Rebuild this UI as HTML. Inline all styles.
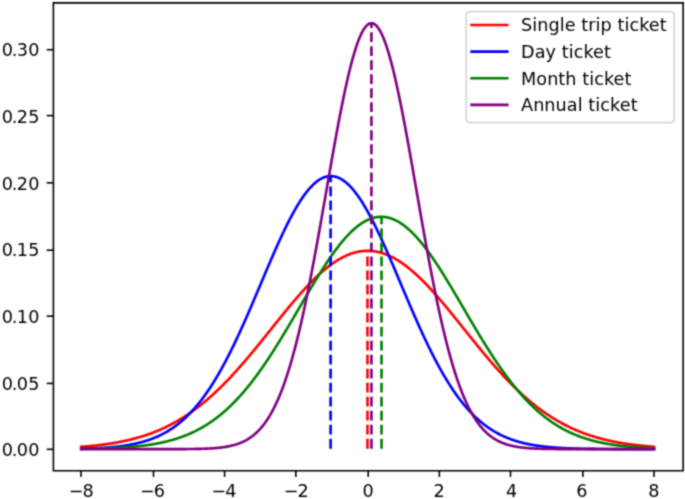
<!DOCTYPE html>
<html><head><meta charset="utf-8"><title>Ticket distributions</title><style>
html,body{margin:0;padding:0;background:#fff;width:685px;height:499px;overflow:hidden}
svg{display:block}
</style></head><body>
<svg width="685" height="499" viewBox="0 0 685 499">
<rect width="685" height="499" fill="#fff"/>
<defs><filter id="b" filterUnits="userSpaceOnUse" x="0" y="0" width="685" height="499" color-interpolation-filters="sRGB"><feConvolveMatrix order="3" kernelMatrix="0.0400 0.1200 0.0400 0.1200 0.3600 0.1200 0.0400 0.1200 0.0400" divisor="1" edgeMode="duplicate"/></filter></defs>
<g filter="url(#b)"><rect width="685" height="499" fill="#fff"/>
<line x1="81.06" y1="470.80" x2="81.06" y2="476.97" stroke="#000" stroke-width="1.60"/>
<text x="80.73" y="497.10" text-anchor="middle" style="font-family:'DejaVu Sans','Liberation Sans',sans-serif;font-size:17.64px;letter-spacing:-1.0px" fill="#000">−8</text>
<line x1="153.50" y1="470.80" x2="153.50" y2="476.97" stroke="#000" stroke-width="1.60"/>
<text x="152.10" y="497.10" text-anchor="middle" style="font-family:'DejaVu Sans','Liberation Sans',sans-serif;font-size:17.64px;letter-spacing:-1.0px" fill="#000">−6</text>
<line x1="224.60" y1="470.80" x2="224.60" y2="476.97" stroke="#000" stroke-width="1.60"/>
<text x="223.49" y="497.10" text-anchor="middle" style="font-family:'DejaVu Sans','Liberation Sans',sans-serif;font-size:17.64px;letter-spacing:-1.0px" fill="#000">−4</text>
<line x1="295.82" y1="470.80" x2="295.82" y2="476.97" stroke="#000" stroke-width="1.60"/>
<text x="295.62" y="497.10" text-anchor="middle" style="font-family:'DejaVu Sans','Liberation Sans',sans-serif;font-size:17.64px;letter-spacing:-1.0px" fill="#000">−2</text>
<line x1="368.22" y1="470.80" x2="368.22" y2="476.97" stroke="#000" stroke-width="1.60"/>
<text x="368.10" y="497.10" text-anchor="middle" style="font-family:'DejaVu Sans','Liberation Sans',sans-serif;font-size:17.64px;letter-spacing:0px" fill="#000">0</text>
<line x1="439.34" y1="470.80" x2="439.34" y2="476.97" stroke="#000" stroke-width="1.60"/>
<text x="439.09" y="497.10" text-anchor="middle" style="font-family:'DejaVu Sans','Liberation Sans',sans-serif;font-size:17.64px;letter-spacing:0px" fill="#000">2</text>
<line x1="510.50" y1="470.80" x2="510.50" y2="476.97" stroke="#000" stroke-width="1.60"/>
<text x="511.65" y="497.10" text-anchor="middle" style="font-family:'DejaVu Sans','Liberation Sans',sans-serif;font-size:17.64px;letter-spacing:0px" fill="#000">4</text>
<line x1="582.90" y1="470.80" x2="582.90" y2="476.97" stroke="#000" stroke-width="1.60"/>
<text x="581.94" y="497.10" text-anchor="middle" style="font-family:'DejaVu Sans','Liberation Sans',sans-serif;font-size:17.64px;letter-spacing:0px" fill="#000">6</text>
<line x1="654.00" y1="470.80" x2="654.00" y2="476.97" stroke="#000" stroke-width="1.60"/>
<text x="653.75" y="497.10" text-anchor="middle" style="font-family:'DejaVu Sans','Liberation Sans',sans-serif;font-size:17.64px;letter-spacing:0px" fill="#000">8</text>
<line x1="46.70" y1="449.30" x2="53.40" y2="449.30" stroke="#000" stroke-width="1.60"/>
<text x="1.64 11.75 16.80 28.30" y="456" style="font-family:'DejaVu Sans','Liberation Sans',sans-serif;font-size:17.64px" fill="#000">0.00</text>
<line x1="46.70" y1="383.40" x2="53.40" y2="383.40" stroke="#000" stroke-width="1.60"/>
<text x="1.64 11.75 16.80 28.30" y="390" style="font-family:'DejaVu Sans','Liberation Sans',sans-serif;font-size:17.64px" fill="#000">0.05</text>
<line x1="46.70" y1="316.14" x2="53.40" y2="316.14" stroke="#000" stroke-width="1.60"/>
<text x="1.64 11.75 16.80 28.30" y="323" style="font-family:'DejaVu Sans','Liberation Sans',sans-serif;font-size:17.64px" fill="#000">0.10</text>
<line x1="46.70" y1="250.20" x2="53.40" y2="250.20" stroke="#000" stroke-width="1.60"/>
<text x="1.64 11.75 16.80 28.30" y="256" style="font-family:'DejaVu Sans','Liberation Sans',sans-serif;font-size:17.64px" fill="#000">0.15</text>
<line x1="46.70" y1="182.82" x2="53.40" y2="182.82" stroke="#000" stroke-width="1.60"/>
<text x="1.64 11.75 16.80 28.30" y="190" style="font-family:'DejaVu Sans','Liberation Sans',sans-serif;font-size:17.64px" fill="#000">0.20</text>
<line x1="46.70" y1="115.60" x2="53.40" y2="115.60" stroke="#000" stroke-width="1.60"/>
<text x="1.64 11.75 16.80 28.30" y="123" style="font-family:'DejaVu Sans','Liberation Sans',sans-serif;font-size:17.64px" fill="#000">0.25</text>
<line x1="46.70" y1="49.70" x2="53.40" y2="49.70" stroke="#000" stroke-width="1.60"/>
<text x="1.64 11.75 16.80 28.30" y="56" style="font-family:'DejaVu Sans','Liberation Sans',sans-serif;font-size:17.64px" fill="#000">0.30</text>
<clipPath id="c"><rect x="53.4" y="2.9" width="629.75" height="467.90000000000003"/></clipPath>
<g clip-path="url(#c)">
<polyline points="81.20,446.77 81.68,446.74 82.15,446.70 82.63,446.66 83.11,446.63 83.59,446.59 84.06,446.55 84.54,446.51 85.02,446.48 85.50,446.44 85.97,446.40 86.45,446.36 86.93,446.32 87.41,446.27 87.88,446.23 88.36,446.19 88.84,446.15 89.31,446.10 89.79,446.06 90.27,446.02 90.75,445.97 91.22,445.93 91.70,445.88 92.18,445.83 92.66,445.78 93.13,445.74 93.61,445.69 94.09,445.64 94.57,445.59 95.04,445.54 95.52,445.49 96.00,445.44 96.47,445.38 96.95,445.33 97.43,445.28 97.91,445.22 98.38,445.17 98.86,445.11 99.34,445.06 99.82,445.00 100.29,444.94 100.77,444.88 101.25,444.83 101.73,444.77 102.20,444.71 102.68,444.64 103.16,444.58 103.63,444.52 104.11,444.46 104.59,444.39 105.07,444.33 105.54,444.26 106.02,444.20 106.50,444.13 106.98,444.06 107.45,443.99 107.93,443.92 108.41,443.85 108.89,443.78 109.36,443.71 109.84,443.64 110.32,443.56 110.79,443.49 111.27,443.41 111.75,443.34 112.23,443.26 112.70,443.18 113.18,443.10 113.66,443.02 114.14,442.94 114.61,442.86 115.09,442.78 115.57,442.70 116.05,442.61 116.52,442.53 117.00,442.44 117.48,442.35 117.95,442.27 118.43,442.18 118.91,442.09 119.39,442.00 119.86,441.90 120.34,441.81 120.82,441.72 121.30,441.62 121.77,441.53 122.25,441.43 122.73,441.33 123.21,441.23 123.68,441.13 124.16,441.03 124.64,440.93 125.11,440.83 125.59,440.72 126.07,440.62 126.55,440.51 127.02,440.40 127.50,440.29 127.98,440.18 128.46,440.07 128.93,439.96 129.41,439.85 129.89,439.73 130.37,439.61 130.84,439.50 131.32,439.38 131.80,439.26 132.27,439.14 132.75,439.02 133.23,438.89 133.71,438.77 134.18,438.64 134.66,438.52 135.14,438.39 135.62,438.26 136.09,438.13 136.57,438.00 137.05,437.86 137.53,437.73 138.00,437.59 138.48,437.46 138.96,437.32 139.43,437.18 139.91,437.04 140.39,436.89 140.87,436.75 141.34,436.60 141.82,436.46 142.30,436.31 142.78,436.16 143.25,436.01 143.73,435.86 144.21,435.70 144.69,435.55 145.16,435.39 145.64,435.23 146.12,435.07 146.59,434.91 147.07,434.75 147.55,434.58 148.03,434.42 148.50,434.25 148.98,434.08 149.46,433.91 149.94,433.74 150.41,433.57 150.89,433.39 151.37,433.21 151.85,433.04 152.32,432.86 152.80,432.67 153.28,432.49 153.75,432.31 154.23,432.12 154.71,431.93 155.19,431.74 155.66,431.55 156.14,431.36 156.62,431.16 157.10,430.97 157.57,430.77 158.05,430.57 158.53,430.37 159.01,430.17 159.48,429.96 159.96,429.76 160.44,429.55 160.91,429.34 161.39,429.13 161.87,428.91 162.35,428.70 162.82,428.48 163.30,428.26 163.78,428.04 164.26,427.82 164.73,427.59 165.21,427.37 165.69,427.14 166.17,426.91 166.64,426.68 167.12,426.45 167.60,426.21 168.07,425.97 168.55,425.73 169.03,425.49 169.51,425.25 169.98,425.01 170.46,424.76 170.94,424.51 171.42,424.26 171.89,424.01 172.37,423.75 172.85,423.50 173.33,423.24 173.80,422.98 174.28,422.72 174.76,422.45 175.23,422.19 175.71,421.92 176.19,421.65 176.67,421.38 177.14,421.10 177.62,420.83 178.10,420.55 178.58,420.27 179.05,419.99 179.53,419.70 180.01,419.42 180.49,419.13 180.96,418.84 181.44,418.55 181.92,418.25 182.39,417.95 182.87,417.66 183.35,417.36 183.83,417.05 184.30,416.75 184.78,416.44 185.26,416.13 185.74,415.82 186.21,415.51 186.69,415.19 187.17,414.88 187.65,414.56 188.12,414.23 188.60,413.91 189.08,413.59 189.55,413.26 190.03,412.93 190.51,412.60 190.99,412.26 191.46,411.92 191.94,411.59 192.42,411.24 192.90,410.90 193.37,410.56 193.85,410.21 194.33,409.86 194.81,409.51 195.28,409.15 195.76,408.80 196.24,408.44 196.71,408.08 197.19,407.72 197.67,407.35 198.15,406.99 198.62,406.62 199.10,406.25 199.58,405.87 200.06,405.50 200.53,405.12 201.01,404.74 201.49,404.36 201.97,403.97 202.44,403.59 202.92,403.20 203.40,402.81 203.87,402.42 204.35,402.02 204.83,401.62 205.31,401.22 205.78,400.82 206.26,400.42 206.74,400.01 207.22,399.61 207.69,399.20 208.17,398.78 208.65,398.37 209.13,397.95 209.60,397.53 210.08,397.11 210.56,396.69 211.03,396.26 211.51,395.84 211.99,395.41 212.47,394.98 212.94,394.54 213.42,394.11 213.90,393.67 214.38,393.23 214.85,392.79 215.33,392.34 215.81,391.90 216.29,391.45 216.76,391.00 217.24,390.54 217.72,390.09 218.19,389.63 218.67,389.17 219.15,388.71 219.63,388.25 220.10,387.78 220.58,387.32 221.06,386.85 221.54,386.38 222.01,385.90 222.49,385.43 222.97,384.95 223.45,384.47 223.92,383.99 224.40,383.51 224.88,383.02 225.35,382.54 225.83,382.05 226.31,381.56 226.79,381.07 227.26,380.57 227.74,380.07 228.22,379.58 228.70,379.08 229.17,378.57 229.65,378.07 230.13,377.56 230.61,377.06 231.08,376.55 231.56,376.04 232.04,375.52 232.51,375.01 232.99,374.49 233.47,373.97 233.95,373.45 234.42,372.93 234.90,372.41 235.38,371.88 235.86,371.36 236.33,370.83 236.81,370.30 237.29,369.77 237.77,369.23 238.24,368.70 238.72,368.16 239.20,367.62 239.67,367.08 240.15,366.54 240.63,366.00 241.11,365.46 241.58,364.91 242.06,364.36 242.54,363.81 243.02,363.26 243.49,362.71 243.97,362.16 244.45,361.61 244.93,361.05 245.40,360.49 245.88,359.93 246.36,359.37 246.83,358.81 247.31,358.25 247.79,357.69 248.27,357.12 248.74,356.56 249.22,355.99 249.70,355.42 250.18,354.85 250.65,354.28 251.13,353.71 251.61,353.14 252.09,352.56 252.56,351.99 253.04,351.41 253.52,350.83 253.99,350.26 254.47,349.68 254.95,349.10 255.43,348.52 255.90,347.94 256.38,347.35 256.86,346.77 257.34,346.19 257.81,345.60 258.29,345.02 258.77,344.43 259.25,343.84 259.72,343.25 260.20,342.67 260.68,342.08 261.15,341.49 261.63,340.90 262.11,340.31 262.59,339.71 263.06,339.12 263.54,338.53 264.02,337.94 264.50,337.34 264.97,336.75 265.45,336.16 265.93,335.56 266.41,334.97 266.88,334.37 267.36,333.78 267.84,333.18 268.31,332.59 268.79,331.99 269.27,331.39 269.75,330.80 270.22,330.20 270.70,329.61 271.18,329.01 271.66,328.41 272.13,327.82 272.61,327.22 273.09,326.62 273.57,326.03 274.04,325.43 274.52,324.84 275.00,324.24 275.47,323.64 275.95,323.05 276.43,322.45 276.91,321.86 277.38,321.27 277.86,320.67 278.34,320.08 278.82,319.49 279.29,318.89 279.77,318.30 280.25,317.71 280.73,317.12 281.20,316.53 281.68,315.94 282.16,315.35 282.63,314.76 283.11,314.18 283.59,313.59 284.07,313.00 284.54,312.42 285.02,311.83 285.50,311.25 285.98,310.67 286.45,310.09 286.93,309.51 287.41,308.93 287.89,308.35 288.36,307.77 288.84,307.19 289.32,306.62 289.79,306.05 290.27,305.47 290.75,304.90 291.23,304.33 291.70,303.76 292.18,303.20 292.66,302.63 293.14,302.06 293.61,301.50 294.09,300.94 294.57,300.38 295.05,299.82 295.52,299.26 296.00,298.71 296.48,298.16 296.95,297.60 297.43,297.05 297.91,296.50 298.39,295.96 298.86,295.41 299.34,294.87 299.82,294.33 300.30,293.79 300.77,293.25 301.25,292.72 301.73,292.18 302.21,291.65 302.68,291.12 303.16,290.60 303.64,290.07 304.11,289.55 304.59,289.03 305.07,288.51 305.55,287.99 306.02,287.48 306.50,286.97 306.98,286.46 307.46,285.95 307.93,285.45 308.41,284.95 308.89,284.45 309.37,283.95 309.84,283.46 310.32,282.97 310.80,282.48 311.27,281.99 311.75,281.51 312.23,281.03 312.71,280.55 313.18,280.07 313.66,279.60 314.14,279.13 314.62,278.67 315.09,278.20 315.57,277.74 316.05,277.28 316.53,276.83 317.00,276.38 317.48,275.93 317.96,275.48 318.43,275.04 318.91,274.60 319.39,274.17 319.87,273.73 320.34,273.30 320.82,272.88 321.30,272.46 321.78,272.04 322.25,271.62 322.73,271.21 323.21,270.80 323.69,270.39 324.16,269.99 324.64,269.59 325.12,269.20 325.59,268.80 326.07,268.42 326.55,268.03 327.03,267.65 327.50,267.27 327.98,266.90 328.46,266.53 328.94,266.16 329.41,265.80 329.89,265.44 330.37,265.09 330.85,264.74 331.32,264.39 331.80,264.05 332.28,263.71 332.75,263.37 333.23,263.04 333.71,262.71 334.19,262.39 334.66,262.07 335.14,261.76 335.62,261.44 336.10,261.14 336.57,260.83 337.05,260.54 337.53,260.24 338.01,259.95 338.48,259.66 338.96,259.38 339.44,259.10 339.91,258.83 340.39,258.56 340.87,258.30 341.35,258.04 341.82,257.78 342.30,257.53 342.78,257.28 343.26,257.04 343.73,256.80 344.21,256.57 344.69,256.34 345.17,256.11 345.64,255.89 346.12,255.67 346.60,255.46 347.07,255.26 347.55,255.05 348.03,254.85 348.51,254.66 348.98,254.47 349.46,254.29 349.94,254.11 350.42,253.93 350.89,253.76 351.37,253.60 351.85,253.44 352.33,253.28 352.80,253.13 353.28,252.98 353.76,252.84 354.23,252.70 354.71,252.57 355.19,252.44 355.67,252.32 356.14,252.20 356.62,252.09 357.10,251.98 357.58,251.87 358.05,251.77 358.53,251.68 359.01,251.59 359.49,251.50 359.96,251.42 360.44,251.35 360.92,251.28 361.39,251.21 361.87,251.15 362.35,251.09 362.83,251.04 363.30,251.00 363.78,250.96 364.26,250.92 364.74,250.89 365.21,250.86 365.69,250.84 366.17,250.82 366.65,250.81 367.12,250.80 367.60,250.80 368.08,250.80 368.55,250.81 369.03,250.82 369.51,250.84 369.99,250.86 370.46,250.89 370.94,250.92 371.42,250.96 371.90,251.00 372.37,251.04 372.85,251.09 373.33,251.15 373.81,251.21 374.28,251.28 374.76,251.35 375.24,251.42 375.71,251.50 376.19,251.59 376.67,251.68 377.15,251.77 377.62,251.87 378.10,251.98 378.58,252.09 379.06,252.20 379.53,252.32 380.01,252.44 380.49,252.57 380.97,252.70 381.44,252.84 381.92,252.98 382.40,253.13 382.87,253.28 383.35,253.44 383.83,253.60 384.31,253.76 384.78,253.93 385.26,254.11 385.74,254.29 386.22,254.47 386.69,254.66 387.17,254.85 387.65,255.05 388.13,255.26 388.60,255.46 389.08,255.67 389.56,255.89 390.03,256.11 390.51,256.34 390.99,256.57 391.47,256.80 391.94,257.04 392.42,257.28 392.90,257.53 393.38,257.78 393.85,258.04 394.33,258.30 394.81,258.56 395.29,258.83 395.76,259.10 396.24,259.38 396.72,259.66 397.19,259.95 397.67,260.24 398.15,260.54 398.63,260.83 399.10,261.14 399.58,261.44 400.06,261.76 400.54,262.07 401.01,262.39 401.49,262.71 401.97,263.04 402.45,263.37 402.92,263.71 403.40,264.05 403.88,264.39 404.35,264.74 404.83,265.09 405.31,265.44 405.79,265.80 406.26,266.16 406.74,266.53 407.22,266.90 407.70,267.27 408.17,267.65 408.65,268.03 409.13,268.42 409.61,268.80 410.08,269.20 410.56,269.59 411.04,269.99 411.51,270.39 411.99,270.80 412.47,271.21 412.95,271.62 413.42,272.04 413.90,272.46 414.38,272.88 414.86,273.30 415.33,273.73 415.81,274.17 416.29,274.60 416.77,275.04 417.24,275.48 417.72,275.93 418.20,276.38 418.67,276.83 419.15,277.28 419.63,277.74 420.11,278.20 420.58,278.67 421.06,279.13 421.54,279.60 422.02,280.07 422.49,280.55 422.97,281.03 423.45,281.51 423.93,281.99 424.40,282.48 424.88,282.97 425.36,283.46 425.83,283.95 426.31,284.45 426.79,284.95 427.27,285.45 427.74,285.95 428.22,286.46 428.70,286.97 429.18,287.48 429.65,287.99 430.13,288.51 430.61,289.03 431.09,289.55 431.56,290.07 432.04,290.60 432.52,291.12 432.99,291.65 433.47,292.18 433.95,292.72 434.43,293.25 434.90,293.79 435.38,294.33 435.86,294.87 436.34,295.41 436.81,295.96 437.29,296.50 437.77,297.05 438.25,297.60 438.72,298.16 439.20,298.71 439.68,299.26 440.15,299.82 440.63,300.38 441.11,300.94 441.59,301.50 442.06,302.06 442.54,302.63 443.02,303.20 443.50,303.76 443.97,304.33 444.45,304.90 444.93,305.47 445.41,306.05 445.88,306.62 446.36,307.19 446.84,307.77 447.31,308.35 447.79,308.93 448.27,309.51 448.75,310.09 449.22,310.67 449.70,311.25 450.18,311.83 450.66,312.42 451.13,313.00 451.61,313.59 452.09,314.18 452.57,314.76 453.04,315.35 453.52,315.94 454.00,316.53 454.47,317.12 454.95,317.71 455.43,318.30 455.91,318.89 456.38,319.49 456.86,320.08 457.34,320.67 457.82,321.27 458.29,321.86 458.77,322.45 459.25,323.05 459.73,323.64 460.20,324.24 460.68,324.84 461.16,325.43 461.63,326.03 462.11,326.62 462.59,327.22 463.07,327.82 463.54,328.41 464.02,329.01 464.50,329.61 464.98,330.20 465.45,330.80 465.93,331.39 466.41,331.99 466.89,332.59 467.36,333.18 467.84,333.78 468.32,334.37 468.79,334.97 469.27,335.56 469.75,336.16 470.23,336.75 470.70,337.34 471.18,337.94 471.66,338.53 472.14,339.12 472.61,339.71 473.09,340.31 473.57,340.90 474.05,341.49 474.52,342.08 475.00,342.67 475.48,343.25 475.95,343.84 476.43,344.43 476.91,345.02 477.39,345.60 477.86,346.19 478.34,346.77 478.82,347.35 479.30,347.94 479.77,348.52 480.25,349.10 480.73,349.68 481.21,350.26 481.68,350.83 482.16,351.41 482.64,351.99 483.11,352.56 483.59,353.14 484.07,353.71 484.55,354.28 485.02,354.85 485.50,355.42 485.98,355.99 486.46,356.56 486.93,357.12 487.41,357.69 487.89,358.25 488.37,358.81 488.84,359.37 489.32,359.93 489.80,360.49 490.27,361.05 490.75,361.61 491.23,362.16 491.71,362.71 492.18,363.26 492.66,363.81 493.14,364.36 493.62,364.91 494.09,365.46 494.57,366.00 495.05,366.54 495.53,367.08 496.00,367.62 496.48,368.16 496.96,368.70 497.43,369.23 497.91,369.77 498.39,370.30 498.87,370.83 499.34,371.36 499.82,371.88 500.30,372.41 500.78,372.93 501.25,373.45 501.73,373.97 502.21,374.49 502.69,375.01 503.16,375.52 503.64,376.04 504.12,376.55 504.59,377.06 505.07,377.56 505.55,378.07 506.03,378.57 506.50,379.08 506.98,379.58 507.46,380.07 507.94,380.57 508.41,381.07 508.89,381.56 509.37,382.05 509.85,382.54 510.32,383.02 510.80,383.51 511.28,383.99 511.75,384.47 512.23,384.95 512.71,385.43 513.19,385.90 513.66,386.38 514.14,386.85 514.62,387.32 515.10,387.78 515.57,388.25 516.05,388.71 516.53,389.17 517.01,389.63 517.48,390.09 517.96,390.54 518.44,391.00 518.91,391.45 519.39,391.90 519.87,392.34 520.35,392.79 520.82,393.23 521.30,393.67 521.78,394.11 522.26,394.54 522.73,394.98 523.21,395.41 523.69,395.84 524.17,396.26 524.64,396.69 525.12,397.11 525.60,397.53 526.07,397.95 526.55,398.37 527.03,398.78 527.51,399.20 527.98,399.61 528.46,400.01 528.94,400.42 529.42,400.82 529.89,401.22 530.37,401.62 530.85,402.02 531.33,402.42 531.80,402.81 532.28,403.20 532.76,403.59 533.23,403.97 533.71,404.36 534.19,404.74 534.67,405.12 535.14,405.50 535.62,405.87 536.10,406.25 536.58,406.62 537.05,406.99 537.53,407.35 538.01,407.72 538.49,408.08 538.96,408.44 539.44,408.80 539.92,409.15 540.39,409.51 540.87,409.86 541.35,410.21 541.83,410.56 542.30,410.90 542.78,411.24 543.26,411.59 543.74,411.92 544.21,412.26 544.69,412.60 545.17,412.93 545.65,413.26 546.12,413.59 546.60,413.91 547.08,414.23 547.55,414.56 548.03,414.88 548.51,415.19 548.99,415.51 549.46,415.82 549.94,416.13 550.42,416.44 550.90,416.75 551.37,417.05 551.85,417.36 552.33,417.66 552.81,417.95 553.28,418.25 553.76,418.55 554.24,418.84 554.71,419.13 555.19,419.42 555.67,419.70 556.15,419.99 556.62,420.27 557.10,420.55 557.58,420.83 558.06,421.10 558.53,421.38 559.01,421.65 559.49,421.92 559.97,422.19 560.44,422.45 560.92,422.72 561.40,422.98 561.87,423.24 562.35,423.50 562.83,423.75 563.31,424.01 563.78,424.26 564.26,424.51 564.74,424.76 565.22,425.01 565.69,425.25 566.17,425.49 566.65,425.73 567.13,425.97 567.60,426.21 568.08,426.45 568.56,426.68 569.03,426.91 569.51,427.14 569.99,427.37 570.47,427.59 570.94,427.82 571.42,428.04 571.90,428.26 572.38,428.48 572.85,428.70 573.33,428.91 573.81,429.13 574.29,429.34 574.76,429.55 575.24,429.76 575.72,429.96 576.19,430.17 576.67,430.37 577.15,430.57 577.63,430.77 578.10,430.97 578.58,431.16 579.06,431.36 579.54,431.55 580.01,431.74 580.49,431.93 580.97,432.12 581.45,432.31 581.92,432.49 582.40,432.67 582.88,432.86 583.35,433.04 583.83,433.21 584.31,433.39 584.79,433.57 585.26,433.74 585.74,433.91 586.22,434.08 586.70,434.25 587.17,434.42 587.65,434.58 588.13,434.75 588.61,434.91 589.08,435.07 589.56,435.23 590.04,435.39 590.51,435.55 590.99,435.70 591.47,435.86 591.95,436.01 592.42,436.16 592.90,436.31 593.38,436.46 593.86,436.60 594.33,436.75 594.81,436.89 595.29,437.04 595.77,437.18 596.24,437.32 596.72,437.46 597.20,437.59 597.67,437.73 598.15,437.86 598.63,438.00 599.11,438.13 599.58,438.26 600.06,438.39 600.54,438.52 601.02,438.64 601.49,438.77 601.97,438.89 602.45,439.02 602.93,439.14 603.40,439.26 603.88,439.38 604.36,439.50 604.83,439.61 605.31,439.73 605.79,439.85 606.27,439.96 606.74,440.07 607.22,440.18 607.70,440.29 608.18,440.40 608.65,440.51 609.13,440.62 609.61,440.72 610.09,440.83 610.56,440.93 611.04,441.03 611.52,441.13 611.99,441.23 612.47,441.33 612.95,441.43 613.43,441.53 613.90,441.62 614.38,441.72 614.86,441.81 615.34,441.90 615.81,442.00 616.29,442.09 616.77,442.18 617.25,442.27 617.72,442.35 618.20,442.44 618.68,442.53 619.15,442.61 619.63,442.70 620.11,442.78 620.59,442.86 621.06,442.94 621.54,443.02 622.02,443.10 622.50,443.18 622.97,443.26 623.45,443.34 623.93,443.41 624.41,443.49 624.88,443.56 625.36,443.64 625.84,443.71 626.31,443.78 626.79,443.85 627.27,443.92 627.75,443.99 628.22,444.06 628.70,444.13 629.18,444.20 629.66,444.26 630.13,444.33 630.61,444.39 631.09,444.46 631.57,444.52 632.04,444.58 632.52,444.64 633.00,444.71 633.47,444.77 633.95,444.83 634.43,444.88 634.91,444.94 635.38,445.00 635.86,445.06 636.34,445.11 636.82,445.17 637.29,445.22 637.77,445.28 638.25,445.33 638.73,445.38 639.20,445.44 639.68,445.49 640.16,445.54 640.63,445.59 641.11,445.64 641.59,445.69 642.07,445.74 642.54,445.78 643.02,445.83 643.50,445.88 643.98,445.93 644.45,445.97 644.93,446.02 645.41,446.06 645.89,446.10 646.36,446.15 646.84,446.19 647.32,446.23 647.79,446.27 648.27,446.32 648.75,446.36 649.23,446.40 649.70,446.44 650.18,446.48 650.66,446.51 651.14,446.55 651.61,446.59 652.09,446.63 652.57,446.66 653.05,446.70 653.52,446.74 654.00,446.77" fill="none" stroke="red" stroke-width="2.646" stroke-linejoin="round" stroke-linecap="square"/>
<polyline points="81.20,448.68 81.68,448.67 82.15,448.66 82.63,448.65 83.11,448.64 83.59,448.63 84.06,448.61 84.54,448.60 85.02,448.59 85.50,448.57 85.97,448.56 86.45,448.54 86.93,448.53 87.41,448.51 87.88,448.50 88.36,448.48 88.84,448.47 89.31,448.45 89.79,448.43 90.27,448.42 90.75,448.40 91.22,448.38 91.70,448.36 92.18,448.35 92.66,448.33 93.13,448.31 93.61,448.29 94.09,448.27 94.57,448.25 95.04,448.23 95.52,448.20 96.00,448.18 96.47,448.16 96.95,448.14 97.43,448.11 97.91,448.09 98.38,448.06 98.86,448.04 99.34,448.01 99.82,447.99 100.29,447.96 100.77,447.93 101.25,447.91 101.73,447.88 102.20,447.85 102.68,447.82 103.16,447.79 103.63,447.76 104.11,447.73 104.59,447.70 105.07,447.67 105.54,447.63 106.02,447.60 106.50,447.56 106.98,447.53 107.45,447.49 107.93,447.46 108.41,447.42 108.89,447.38 109.36,447.34 109.84,447.30 110.32,447.26 110.79,447.22 111.27,447.18 111.75,447.14 112.23,447.09 112.70,447.05 113.18,447.00 113.66,446.96 114.14,446.91 114.61,446.86 115.09,446.81 115.57,446.77 116.05,446.71 116.52,446.66 117.00,446.61 117.48,446.56 117.95,446.50 118.43,446.45 118.91,446.39 119.39,446.33 119.86,446.27 120.34,446.21 120.82,446.15 121.30,446.09 121.77,446.03 122.25,445.96 122.73,445.90 123.21,445.83 123.68,445.76 124.16,445.69 124.64,445.62 125.11,445.55 125.59,445.48 126.07,445.41 126.55,445.33 127.02,445.25 127.50,445.17 127.98,445.09 128.46,445.01 128.93,444.93 129.41,444.85 129.89,444.76 130.37,444.67 130.84,444.59 131.32,444.50 131.80,444.41 132.27,444.31 132.75,444.22 133.23,444.12 133.71,444.02 134.18,443.92 134.66,443.82 135.14,443.72 135.62,443.61 136.09,443.51 136.57,443.40 137.05,443.29 137.53,443.18 138.00,443.06 138.48,442.95 138.96,442.83 139.43,442.71 139.91,442.59 140.39,442.47 140.87,442.34 141.34,442.22 141.82,442.09 142.30,441.95 142.78,441.82 143.25,441.69 143.73,441.55 144.21,441.41 144.69,441.26 145.16,441.12 145.64,440.97 146.12,440.82 146.59,440.67 147.07,440.52 147.55,440.36 148.03,440.20 148.50,440.04 148.98,439.88 149.46,439.71 149.94,439.55 150.41,439.38 150.89,439.20 151.37,439.03 151.85,438.85 152.32,438.67 152.80,438.48 153.28,438.29 153.75,438.10 154.23,437.91 154.71,437.72 155.19,437.52 155.66,437.32 156.14,437.11 156.62,436.91 157.10,436.70 157.57,436.48 158.05,436.27 158.53,436.05 159.01,435.83 159.48,435.60 159.96,435.37 160.44,435.14 160.91,434.91 161.39,434.67 161.87,434.43 162.35,434.18 162.82,433.94 163.30,433.68 163.78,433.43 164.26,433.17 164.73,432.91 165.21,432.64 165.69,432.38 166.17,432.10 166.64,431.83 167.12,431.55 167.60,431.26 168.07,430.98 168.55,430.69 169.03,430.39 169.51,430.09 169.98,429.79 170.46,429.49 170.94,429.18 171.42,428.86 171.89,428.54 172.37,428.22 172.85,427.90 173.33,427.57 173.80,427.23 174.28,426.89 174.76,426.55 175.23,426.20 175.71,425.85 176.19,425.50 176.67,425.14 177.14,424.78 177.62,424.41 178.10,424.03 178.58,423.66 179.05,423.28 179.53,422.89 180.01,422.50 180.49,422.11 180.96,421.71 181.44,421.30 181.92,420.89 182.39,420.48 182.87,420.06 183.35,419.64 183.83,419.21 184.30,418.78 184.78,418.34 185.26,417.90 185.74,417.45 186.21,417.00 186.69,416.55 187.17,416.08 187.65,415.62 188.12,415.15 188.60,414.67 189.08,414.19 189.55,413.70 190.03,413.21 190.51,412.71 190.99,412.21 191.46,411.70 191.94,411.19 192.42,410.67 192.90,410.15 193.37,409.62 193.85,409.09 194.33,408.55 194.81,408.01 195.28,407.46 195.76,406.90 196.24,406.34 196.71,405.78 197.19,405.21 197.67,404.63 198.15,404.05 198.62,403.46 199.10,402.87 199.58,402.27 200.06,401.67 200.53,401.06 201.01,400.44 201.49,399.82 201.97,399.20 202.44,398.56 202.92,397.93 203.40,397.29 203.87,396.64 204.35,395.98 204.83,395.32 205.31,394.66 205.78,393.99 206.26,393.31 206.74,392.63 207.22,391.94 207.69,391.25 208.17,390.55 208.65,389.84 209.13,389.13 209.60,388.42 210.08,387.69 210.56,386.97 211.03,386.23 211.51,385.49 211.99,384.75 212.47,384.00 212.94,383.24 213.42,382.48 213.90,381.71 214.38,380.94 214.85,380.16 215.33,379.38 215.81,378.59 216.29,377.79 216.76,376.99 217.24,376.18 217.72,375.37 218.19,374.55 218.67,373.73 219.15,372.90 219.63,372.07 220.10,371.23 220.58,370.38 221.06,369.53 221.54,368.68 222.01,367.81 222.49,366.95 222.97,366.07 223.45,365.20 223.92,364.31 224.40,363.42 224.88,362.53 225.35,361.63 225.83,360.73 226.31,359.82 226.79,358.90 227.26,357.98 227.74,357.06 228.22,356.13 228.70,355.20 229.17,354.26 229.65,353.31 230.13,352.36 230.61,351.41 231.08,350.45 231.56,349.48 232.04,348.52 232.51,347.54 232.99,346.56 233.47,345.58 233.95,344.59 234.42,343.60 234.90,342.61 235.38,341.61 235.86,340.60 236.33,339.59 236.81,338.58 237.29,337.56 237.77,336.54 238.24,335.52 238.72,334.49 239.20,333.45 239.67,332.42 240.15,331.37 240.63,330.33 241.11,329.28 241.58,328.23 242.06,327.17 242.54,326.11 243.02,325.05 243.49,323.99 243.97,322.92 244.45,321.84 244.93,320.77 245.40,319.69 245.88,318.61 246.36,317.52 246.83,316.44 247.31,315.35 247.79,314.25 248.27,313.16 248.74,312.06 249.22,310.96 249.70,309.86 250.18,308.75 250.65,307.65 251.13,306.54 251.61,305.43 252.09,304.31 252.56,303.20 253.04,302.08 253.52,300.97 253.99,299.85 254.47,298.72 254.95,297.60 255.43,296.48 255.90,295.35 256.38,294.23 256.86,293.10 257.34,291.97 257.81,290.85 258.29,289.72 258.77,288.59 259.25,287.46 259.72,286.33 260.20,285.20 260.68,284.06 261.15,282.93 261.63,281.80 262.11,280.67 262.59,279.54 263.06,278.41 263.54,277.28 264.02,276.15 264.50,275.02 264.97,273.90 265.45,272.77 265.93,271.64 266.41,270.52 266.88,269.40 267.36,268.28 267.84,267.16 268.31,266.04 268.79,264.92 269.27,263.80 269.75,262.69 270.22,261.58 270.70,260.47 271.18,259.37 271.66,258.26 272.13,257.16 272.61,256.06 273.09,254.96 273.57,253.87 274.04,252.78 274.52,251.69 275.00,250.61 275.47,249.53 275.95,248.45 276.43,247.38 276.91,246.31 277.38,245.24 277.86,244.18 278.34,243.12 278.82,242.07 279.29,241.02 279.77,239.97 280.25,238.93 280.73,237.90 281.20,236.87 281.68,235.84 282.16,234.82 282.63,233.80 283.11,232.79 283.59,231.79 284.07,230.79 284.54,229.79 285.02,228.80 285.50,227.82 285.98,226.85 286.45,225.88 286.93,224.91 287.41,223.95 287.89,223.00 288.36,222.06 288.84,221.12 289.32,220.19 289.79,219.26 290.27,218.35 290.75,217.44 291.23,216.53 291.70,215.64 292.18,214.75 292.66,213.87 293.14,213.00 293.61,212.13 294.09,211.27 294.57,210.42 295.05,209.58 295.52,208.75 296.00,207.93 296.48,207.11 296.95,206.30 297.43,205.50 297.91,204.71 298.39,203.93 298.86,203.16 299.34,202.40 299.82,201.64 300.30,200.90 300.77,200.17 301.25,199.44 301.73,198.72 302.21,198.02 302.68,197.32 303.16,196.63 303.64,195.96 304.11,195.29 304.59,194.63 305.07,193.99 305.55,193.35 306.02,192.72 306.50,192.11 306.98,191.50 307.46,190.91 307.93,190.33 308.41,189.75 308.89,189.19 309.37,188.64 309.84,188.10 310.32,187.57 310.80,187.05 311.27,186.55 311.75,186.05 312.23,185.57 312.71,185.10 313.18,184.63 313.66,184.19 314.14,183.75 314.62,183.32 315.09,182.91 315.57,182.50 316.05,182.11 316.53,181.73 317.00,181.37 317.48,181.01 317.96,180.67 318.43,180.34 318.91,180.02 319.39,179.71 319.87,179.42 320.34,179.14 320.82,178.87 321.30,178.61 321.78,178.37 322.25,178.13 322.73,177.91 323.21,177.71 323.69,177.51 324.16,177.33 324.64,177.16 325.12,177.00 325.59,176.86 326.07,176.72 326.55,176.60 327.03,176.50 327.50,176.40 327.98,176.32 328.46,176.25 328.94,176.20 329.41,176.15 329.89,176.12 330.37,176.11 330.85,176.10 331.32,176.11 331.80,176.13 332.28,176.16 332.75,176.21 333.23,176.27 333.71,176.34 334.19,176.42 334.66,176.52 335.14,176.63 335.62,176.75 336.10,176.88 336.57,177.03 337.05,177.19 337.53,177.36 338.01,177.55 338.48,177.74 338.96,177.95 339.44,178.18 339.91,178.41 340.39,178.66 340.87,178.92 341.35,179.19 341.82,179.47 342.30,179.77 342.78,180.08 343.26,180.40 343.73,180.73 344.21,181.08 344.69,181.44 345.17,181.81 345.64,182.19 346.12,182.58 346.60,182.98 347.07,183.40 347.55,183.83 348.03,184.27 348.51,184.72 348.98,185.18 349.46,185.66 349.94,186.15 350.42,186.64 350.89,187.15 351.37,187.67 351.85,188.20 352.33,188.74 352.80,189.30 353.28,189.86 353.76,190.44 354.23,191.02 354.71,191.62 355.19,192.23 355.67,192.84 356.14,193.47 356.62,194.11 357.10,194.76 357.58,195.42 358.05,196.08 358.53,196.76 359.01,197.45 359.49,198.15 359.96,198.86 360.44,199.58 360.92,200.30 361.39,201.04 361.87,201.79 362.35,202.54 362.83,203.31 363.30,204.08 363.78,204.86 364.26,205.66 364.74,206.46 365.21,207.26 365.69,208.08 366.17,208.91 366.65,209.74 367.12,210.58 367.60,211.44 368.08,212.29 368.55,213.16 369.03,214.03 369.51,214.92 369.99,215.81 370.46,216.70 370.94,217.61 371.42,218.52 371.90,219.44 372.37,220.36 372.85,221.30 373.33,222.24 373.81,223.18 374.28,224.13 374.76,225.09 375.24,226.06 375.71,227.03 376.19,228.01 376.67,228.99 377.15,229.98 377.62,230.98 378.10,231.98 378.58,232.98 379.06,234.00 379.53,235.01 380.01,236.03 380.49,237.06 380.97,238.09 381.44,239.13 381.92,240.17 382.40,241.22 382.87,242.27 383.35,243.32 383.83,244.38 384.31,245.44 384.78,246.51 385.26,247.58 385.74,248.66 386.22,249.73 386.69,250.81 387.17,251.90 387.65,252.99 388.13,254.08 388.60,255.17 389.08,256.27 389.56,257.37 390.03,258.47 390.51,259.58 390.99,260.68 391.47,261.79 391.94,262.90 392.42,264.02 392.90,265.13 393.38,266.25 393.85,267.37 394.33,268.49 394.81,269.61 395.29,270.73 395.76,271.86 396.24,272.98 396.72,274.11 397.19,275.24 397.67,276.37 398.15,277.50 398.63,278.63 399.10,279.76 399.58,280.89 400.06,282.02 400.54,283.15 401.01,284.28 401.49,285.41 401.97,286.54 402.45,287.67 402.92,288.80 403.40,289.93 403.88,291.06 404.35,292.19 404.83,293.32 405.31,294.44 405.79,295.57 406.26,296.69 406.74,297.82 407.22,298.94 407.70,300.06 408.17,301.18 408.65,302.30 409.13,303.41 409.61,304.53 410.08,305.64 410.56,306.75 411.04,307.86 411.51,308.96 411.99,310.07 412.47,311.17 412.95,312.27 413.42,313.37 413.90,314.46 414.38,315.55 414.86,316.64 415.33,317.73 415.81,318.81 416.29,319.90 416.77,320.97 417.24,322.05 417.72,323.12 418.20,324.19 418.67,325.25 419.15,326.32 419.63,327.37 420.11,328.43 420.58,329.48 421.06,330.53 421.54,331.57 422.02,332.61 422.49,333.65 422.97,334.68 423.45,335.71 423.93,336.74 424.40,337.76 424.88,338.77 425.36,339.79 425.83,340.79 426.31,341.80 426.79,342.80 427.27,343.79 427.74,344.78 428.22,345.77 428.70,346.75 429.18,347.73 429.65,348.70 430.13,349.67 430.61,350.63 431.09,351.59 431.56,352.54 432.04,353.49 432.52,354.43 432.99,355.37 433.47,356.31 433.95,357.24 434.43,358.16 434.90,359.08 435.38,359.99 435.86,360.90 436.34,361.80 436.81,362.70 437.29,363.59 437.77,364.48 438.25,365.36 438.72,366.24 439.20,367.11 439.68,367.98 440.15,368.84 440.63,369.69 441.11,370.54 441.59,371.39 442.06,372.23 442.54,373.06 443.02,373.89 443.50,374.71 443.97,375.53 444.45,376.34 444.93,377.14 445.41,377.94 445.88,378.74 446.36,379.53 446.84,380.31 447.31,381.09 447.79,381.86 448.27,382.63 448.75,383.39 449.22,384.14 449.70,384.89 450.18,385.63 450.66,386.37 451.13,387.10 451.61,387.83 452.09,388.55 452.57,389.27 453.04,389.98 453.52,390.68 454.00,391.38 454.47,392.07 454.95,392.76 455.43,393.44 455.91,394.11 456.38,394.78 456.86,395.45 457.34,396.11 457.82,396.76 458.29,397.41 458.77,398.05 459.25,398.69 459.73,399.32 460.20,399.94 460.68,400.56 461.16,401.17 461.63,401.78 462.11,402.38 462.59,402.98 463.07,403.57 463.54,404.16 464.02,404.74 464.50,405.32 464.98,405.89 465.45,406.45 465.93,407.01 466.41,407.56 466.89,408.11 467.36,408.65 467.84,409.19 468.32,409.72 468.79,410.25 469.27,410.77 469.75,411.29 470.23,411.80 470.70,412.31 471.18,412.81 471.66,413.30 472.14,413.79 472.61,414.28 473.09,414.76 473.57,415.24 474.05,415.71 474.52,416.17 475.00,416.63 475.48,417.09 475.95,417.54 476.43,417.98 476.91,418.43 477.39,418.86 477.86,419.29 478.34,419.72 478.82,420.14 479.30,420.56 479.77,420.97 480.25,421.38 480.73,421.78 481.21,422.18 481.68,422.57 482.16,422.96 482.64,423.35 483.11,423.73 483.59,424.11 484.07,424.48 484.55,424.84 485.02,425.21 485.50,425.57 485.98,425.92 486.46,426.27 486.93,426.62 487.41,426.96 487.89,427.30 488.37,427.63 488.84,427.96 489.32,428.28 489.80,428.60 490.27,428.92 490.75,429.23 491.23,429.54 491.71,429.85 492.18,430.15 492.66,430.45 493.14,430.74 493.62,431.03 494.09,431.32 494.57,431.60 495.05,431.88 495.53,432.16 496.00,432.43 496.48,432.70 496.96,432.96 497.43,433.22 497.91,433.48 498.39,433.73 498.87,433.98 499.34,434.23 499.82,434.47 500.30,434.72 500.78,434.95 501.25,435.19 501.73,435.42 502.21,435.65 502.69,435.87 503.16,436.09 503.64,436.31 504.12,436.52 504.59,436.74 505.07,436.95 505.55,437.15 506.03,437.36 506.50,437.56 506.98,437.75 507.46,437.95 507.94,438.14 508.41,438.33 508.89,438.52 509.37,438.70 509.85,438.88 510.32,439.06 510.80,439.23 511.28,439.41 511.75,439.58 512.23,439.75 512.71,439.91 513.19,440.07 513.66,440.24 514.14,440.39 514.62,440.55 515.10,440.70 515.57,440.85 516.05,441.00 516.53,441.15 517.01,441.29 517.48,441.43 517.96,441.57 518.44,441.71 518.91,441.85 519.39,441.98 519.87,442.11 520.35,442.24 520.82,442.37 521.30,442.49 521.78,442.61 522.26,442.74 522.73,442.85 523.21,442.97 523.69,443.09 524.17,443.20 524.64,443.31 525.12,443.42 525.60,443.53 526.07,443.63 526.55,443.74 527.03,443.84 527.51,443.94 527.98,444.04 528.46,444.14 528.94,444.24 529.42,444.33 529.89,444.42 530.37,444.51 530.85,444.60 531.33,444.69 531.80,444.78 532.28,444.86 532.76,444.95 533.23,445.03 533.71,445.11 534.19,445.19 534.67,445.27 535.14,445.34 535.62,445.42 536.10,445.49 536.58,445.57 537.05,445.64 537.53,445.71 538.01,445.78 538.49,445.84 538.96,445.91 539.44,445.98 539.92,446.04 540.39,446.10 540.87,446.16 541.35,446.23 541.83,446.29 542.30,446.34 542.78,446.40 543.26,446.46 543.74,446.51 544.21,446.57 544.69,446.62 545.17,446.67 545.65,446.72 546.12,446.77 546.60,446.82 547.08,446.87 547.55,446.92 548.03,446.97 548.51,447.01 548.99,447.06 549.46,447.10 549.94,447.15 550.42,447.19 550.90,447.23 551.37,447.27 551.85,447.31 552.33,447.35 552.81,447.39 553.28,447.43 553.76,447.46 554.24,447.50 554.71,447.54 555.19,447.57 555.67,447.60 556.15,447.64 556.62,447.67 557.10,447.70 557.58,447.74 558.06,447.77 558.53,447.80 559.01,447.83 559.49,447.86 559.97,447.88 560.44,447.91 560.92,447.94 561.40,447.97 561.87,447.99 562.35,448.02 562.83,448.04 563.31,448.07 563.78,448.09 564.26,448.12 564.74,448.14 565.22,448.16 565.69,448.19 566.17,448.21 566.65,448.23 567.13,448.25 567.60,448.27 568.08,448.29 568.56,448.31 569.03,448.33 569.51,448.35 569.99,448.37 570.47,448.39 570.94,448.40 571.42,448.42 571.90,448.44 572.38,448.45 572.85,448.47 573.33,448.49 573.81,448.50 574.29,448.52 574.76,448.53 575.24,448.55 575.72,448.56 576.19,448.57 576.67,448.59 577.15,448.60 577.63,448.61 578.10,448.63 578.58,448.64 579.06,448.65 579.54,448.66 580.01,448.68 580.49,448.69 580.97,448.70 581.45,448.71 581.92,448.72 582.40,448.73 582.88,448.74 583.35,448.75 583.83,448.76 584.31,448.77 584.79,448.78 585.26,448.79 585.74,448.80 586.22,448.81 586.70,448.81 587.17,448.82 587.65,448.83 588.13,448.84 588.61,448.85 589.08,448.85 589.56,448.86 590.04,448.87 590.51,448.88 590.99,448.88 591.47,448.89 591.95,448.90 592.42,448.90 592.90,448.91 593.38,448.91 593.86,448.92 594.33,448.93 594.81,448.93 595.29,448.94 595.77,448.94 596.24,448.95 596.72,448.95 597.20,448.96 597.67,448.96 598.15,448.97 598.63,448.97 599.11,448.98 599.58,448.98 600.06,448.99 600.54,448.99 601.02,448.99 601.49,449.00 601.97,449.00 602.45,449.01 602.93,449.01 603.40,449.01 603.88,449.02 604.36,449.02 604.83,449.02 605.31,449.03 605.79,449.03 606.27,449.03 606.74,449.04 607.22,449.04 607.70,449.04 608.18,449.05 608.65,449.05 609.13,449.05 609.61,449.05 610.09,449.06 610.56,449.06 611.04,449.06 611.52,449.06 611.99,449.07 612.47,449.07 612.95,449.07 613.43,449.07 613.90,449.08 614.38,449.08 614.86,449.08 615.34,449.08 615.81,449.08 616.29,449.08 616.77,449.09 617.25,449.09 617.72,449.09 618.20,449.09 618.68,449.09 619.15,449.09 619.63,449.10 620.11,449.10 620.59,449.10 621.06,449.10 621.54,449.10 622.02,449.10 622.50,449.10 622.97,449.11 623.45,449.11 623.93,449.11 624.41,449.11 624.88,449.11 625.36,449.11 625.84,449.11 626.31,449.11 626.79,449.12 627.27,449.12 627.75,449.12 628.22,449.12 628.70,449.12 629.18,449.12 629.66,449.12 630.13,449.12 630.61,449.12 631.09,449.12 631.57,449.12 632.04,449.12 632.52,449.13 633.00,449.13 633.47,449.13 633.95,449.13 634.43,449.13 634.91,449.13 635.38,449.13 635.86,449.13 636.34,449.13 636.82,449.13 637.29,449.13 637.77,449.13 638.25,449.13 638.73,449.13 639.20,449.13 639.68,449.13 640.16,449.13 640.63,449.14 641.11,449.14 641.59,449.14 642.07,449.14 642.54,449.14 643.02,449.14 643.50,449.14 643.98,449.14 644.45,449.14 644.93,449.14 645.41,449.14 645.89,449.14 646.36,449.14 646.84,449.14 647.32,449.14 647.79,449.14 648.27,449.14 648.75,449.14 649.23,449.14 649.70,449.14 650.18,449.14 650.66,449.14 651.14,449.14 651.61,449.14 652.09,449.14 652.57,449.14 653.05,449.14 653.52,449.14 654.00,449.14" fill="none" stroke="blue" stroke-width="2.646" stroke-linejoin="round" stroke-linecap="square"/>
<polyline points="81.20,448.85 81.68,448.85 82.15,448.84 82.63,448.83 83.11,448.83 83.59,448.82 84.06,448.81 84.54,448.80 85.02,448.80 85.50,448.79 85.97,448.78 86.45,448.77 86.93,448.77 87.41,448.76 87.88,448.75 88.36,448.74 88.84,448.73 89.31,448.72 89.79,448.72 90.27,448.71 90.75,448.70 91.22,448.69 91.70,448.68 92.18,448.67 92.66,448.66 93.13,448.65 93.61,448.64 94.09,448.63 94.57,448.62 95.04,448.61 95.52,448.60 96.00,448.58 96.47,448.57 96.95,448.56 97.43,448.55 97.91,448.54 98.38,448.52 98.86,448.51 99.34,448.50 99.82,448.49 100.29,448.47 100.77,448.46 101.25,448.45 101.73,448.43 102.20,448.42 102.68,448.40 103.16,448.39 103.63,448.37 104.11,448.36 104.59,448.34 105.07,448.33 105.54,448.31 106.02,448.29 106.50,448.28 106.98,448.26 107.45,448.24 107.93,448.22 108.41,448.21 108.89,448.19 109.36,448.17 109.84,448.15 110.32,448.13 110.79,448.11 111.27,448.09 111.75,448.07 112.23,448.05 112.70,448.03 113.18,448.01 113.66,447.99 114.14,447.96 114.61,447.94 115.09,447.92 115.57,447.89 116.05,447.87 116.52,447.85 117.00,447.82 117.48,447.80 117.95,447.77 118.43,447.75 118.91,447.72 119.39,447.69 119.86,447.66 120.34,447.64 120.82,447.61 121.30,447.58 121.77,447.55 122.25,447.52 122.73,447.49 123.21,447.46 123.68,447.43 124.16,447.40 124.64,447.37 125.11,447.33 125.59,447.30 126.07,447.27 126.55,447.23 127.02,447.20 127.50,447.16 127.98,447.13 128.46,447.09 128.93,447.05 129.41,447.02 129.89,446.98 130.37,446.94 130.84,446.90 131.32,446.86 131.80,446.82 132.27,446.78 132.75,446.74 133.23,446.69 133.71,446.65 134.18,446.61 134.66,446.56 135.14,446.52 135.62,446.47 136.09,446.42 136.57,446.38 137.05,446.33 137.53,446.28 138.00,446.23 138.48,446.18 138.96,446.13 139.43,446.07 139.91,446.02 140.39,445.97 140.87,445.91 141.34,445.86 141.82,445.80 142.30,445.74 142.78,445.69 143.25,445.63 143.73,445.57 144.21,445.51 144.69,445.45 145.16,445.38 145.64,445.32 146.12,445.26 146.59,445.19 147.07,445.13 147.55,445.06 148.03,444.99 148.50,444.92 148.98,444.85 149.46,444.78 149.94,444.71 150.41,444.64 150.89,444.56 151.37,444.49 151.85,444.41 152.32,444.33 152.80,444.25 153.28,444.17 153.75,444.09 154.23,444.01 154.71,443.93 155.19,443.85 155.66,443.76 156.14,443.67 156.62,443.59 157.10,443.50 157.57,443.41 158.05,443.32 158.53,443.22 159.01,443.13 159.48,443.03 159.96,442.94 160.44,442.84 160.91,442.74 161.39,442.64 161.87,442.54 162.35,442.44 162.82,442.33 163.30,442.23 163.78,442.12 164.26,442.01 164.73,441.90 165.21,441.79 165.69,441.68 166.17,441.56 166.64,441.45 167.12,441.33 167.60,441.21 168.07,441.09 168.55,440.97 169.03,440.84 169.51,440.72 169.98,440.59 170.46,440.46 170.94,440.33 171.42,440.20 171.89,440.07 172.37,439.93 172.85,439.79 173.33,439.66 173.80,439.52 174.28,439.37 174.76,439.23 175.23,439.08 175.71,438.94 176.19,438.79 176.67,438.64 177.14,438.48 177.62,438.33 178.10,438.17 178.58,438.02 179.05,437.86 179.53,437.69 180.01,437.53 180.49,437.36 180.96,437.19 181.44,437.02 181.92,436.85 182.39,436.68 182.87,436.50 183.35,436.32 183.83,436.14 184.30,435.96 184.78,435.78 185.26,435.59 185.74,435.40 186.21,435.21 186.69,435.02 187.17,434.82 187.65,434.63 188.12,434.43 188.60,434.22 189.08,434.02 189.55,433.81 190.03,433.61 190.51,433.39 190.99,433.18 191.46,432.97 191.94,432.75 192.42,432.53 192.90,432.30 193.37,432.08 193.85,431.85 194.33,431.62 194.81,431.39 195.28,431.15 195.76,430.92 196.24,430.68 196.71,430.43 197.19,430.19 197.67,429.94 198.15,429.69 198.62,429.44 199.10,429.18 199.58,428.92 200.06,428.66 200.53,428.40 201.01,428.13 201.49,427.86 201.97,427.59 202.44,427.32 202.92,427.04 203.40,426.76 203.87,426.48 204.35,426.19 204.83,425.91 205.31,425.62 205.78,425.32 206.26,425.03 206.74,424.73 207.22,424.42 207.69,424.12 208.17,423.81 208.65,423.50 209.13,423.19 209.60,422.87 210.08,422.55 210.56,422.23 211.03,421.90 211.51,421.57 211.99,421.24 212.47,420.90 212.94,420.57 213.42,420.22 213.90,419.88 214.38,419.53 214.85,419.18 215.33,418.83 215.81,418.47 216.29,418.11 216.76,417.75 217.24,417.38 217.72,417.01 218.19,416.64 218.67,416.26 219.15,415.89 219.63,415.50 220.10,415.12 220.58,414.73 221.06,414.34 221.54,413.94 222.01,413.54 222.49,413.14 222.97,412.74 223.45,412.33 223.92,411.92 224.40,411.50 224.88,411.08 225.35,410.66 225.83,410.23 226.31,409.81 226.79,409.37 227.26,408.94 227.74,408.50 228.22,408.06 228.70,407.61 229.17,407.16 229.65,406.71 230.13,406.25 230.61,405.79 231.08,405.33 231.56,404.87 232.04,404.40 232.51,403.92 232.99,403.45 233.47,402.97 233.95,402.48 234.42,401.99 234.90,401.50 235.38,401.01 235.86,400.51 236.33,400.01 236.81,399.51 237.29,399.00 237.77,398.49 238.24,397.97 238.72,397.45 239.20,396.93 239.67,396.41 240.15,395.88 240.63,395.35 241.11,394.81 241.58,394.27 242.06,393.73 242.54,393.18 243.02,392.63 243.49,392.08 243.97,391.52 244.45,390.96 244.93,390.40 245.40,389.83 245.88,389.26 246.36,388.68 246.83,388.11 247.31,387.53 247.79,386.94 248.27,386.35 248.74,385.76 249.22,385.17 249.70,384.57 250.18,383.97 250.65,383.36 251.13,382.76 251.61,382.14 252.09,381.53 252.56,380.91 253.04,380.29 253.52,379.66 253.99,379.04 254.47,378.40 254.95,377.77 255.43,377.13 255.90,376.49 256.38,375.84 256.86,375.20 257.34,374.55 257.81,373.89 258.29,373.23 258.77,372.57 259.25,371.91 259.72,371.24 260.20,370.57 260.68,369.90 261.15,369.22 261.63,368.54 262.11,367.86 262.59,367.18 263.06,366.49 263.54,365.80 264.02,365.10 264.50,364.41 264.97,363.71 265.45,363.00 265.93,362.30 266.41,361.59 266.88,360.88 267.36,360.16 267.84,359.45 268.31,358.73 268.79,358.00 269.27,357.28 269.75,356.55 270.22,355.82 270.70,355.09 271.18,354.35 271.66,353.61 272.13,352.87 272.61,352.13 273.09,351.38 273.57,350.64 274.04,349.89 274.52,349.13 275.00,348.38 275.47,347.62 275.95,346.86 276.43,346.10 276.91,345.34 277.38,344.57 277.86,343.80 278.34,343.03 278.82,342.26 279.29,341.49 279.77,340.71 280.25,339.93 280.73,339.15 281.20,338.37 281.68,337.59 282.16,336.80 282.63,336.02 283.11,335.23 283.59,334.44 284.07,333.64 284.54,332.85 285.02,332.06 285.50,331.26 285.98,330.46 286.45,329.66 286.93,328.86 287.41,328.06 287.89,327.26 288.36,326.45 288.84,325.65 289.32,324.84 289.79,324.03 290.27,323.23 290.75,322.42 291.23,321.61 291.70,320.80 292.18,319.98 292.66,319.17 293.14,318.36 293.61,317.54 294.09,316.73 294.57,315.91 295.05,315.10 295.52,314.28 296.00,313.46 296.48,312.65 296.95,311.83 297.43,311.01 297.91,310.19 298.39,309.38 298.86,308.56 299.34,307.74 299.82,306.92 300.30,306.10 300.77,305.29 301.25,304.47 301.73,303.65 302.21,302.84 302.68,302.02 303.16,301.20 303.64,300.39 304.11,299.57 304.59,298.76 305.07,297.94 305.55,297.13 306.02,296.32 306.50,295.51 306.98,294.70 307.46,293.89 307.93,293.08 308.41,292.27 308.89,291.46 309.37,290.66 309.84,289.85 310.32,289.05 310.80,288.25 311.27,287.45 311.75,286.65 312.23,285.86 312.71,285.06 313.18,284.27 313.66,283.47 314.14,282.68 314.62,281.90 315.09,281.11 315.57,280.33 316.05,279.54 316.53,278.76 317.00,277.99 317.48,277.21 317.96,276.44 318.43,275.67 318.91,274.90 319.39,274.13 319.87,273.37 320.34,272.61 320.82,271.85 321.30,271.09 321.78,270.34 322.25,269.59 322.73,268.85 323.21,268.10 323.69,267.36 324.16,266.62 324.64,265.89 325.12,265.16 325.59,264.43 326.07,263.71 326.55,262.98 327.03,262.27 327.50,261.55 327.98,260.84 328.46,260.14 328.94,259.43 329.41,258.73 329.89,258.04 330.37,257.35 330.85,256.66 331.32,255.98 331.80,255.30 332.28,254.62 332.75,253.95 333.23,253.28 333.71,252.62 334.19,251.96 334.66,251.31 335.14,250.66 335.62,250.02 336.10,249.38 336.57,248.74 337.05,248.11 337.53,247.49 338.01,246.87 338.48,246.25 338.96,245.64 339.44,245.03 339.91,244.43 340.39,243.84 340.87,243.25 341.35,242.66 341.82,242.08 342.30,241.51 342.78,240.94 343.26,240.38 343.73,239.82 344.21,239.27 344.69,238.72 345.17,238.18 345.64,237.64 346.12,237.12 346.60,236.59 347.07,236.07 347.55,235.56 348.03,235.06 348.51,234.56 348.98,234.06 349.46,233.58 349.94,233.09 350.42,232.62 350.89,232.15 351.37,231.69 351.85,231.23 352.33,230.78 352.80,230.34 353.28,229.90 353.76,229.47 354.23,229.05 354.71,228.63 355.19,228.22 355.67,227.82 356.14,227.42 356.62,227.03 357.10,226.65 357.58,226.27 358.05,225.90 358.53,225.54 359.01,225.18 359.49,224.83 359.96,224.49 360.44,224.16 360.92,223.83 361.39,223.51 361.87,223.19 362.35,222.89 362.83,222.59 363.30,222.30 363.78,222.01 364.26,221.74 364.74,221.47 365.21,221.20 365.69,220.95 366.17,220.70 366.65,220.46 367.12,220.23 367.60,220.00 368.08,219.78 368.55,219.57 369.03,219.37 369.51,219.18 369.99,218.99 370.46,218.81 370.94,218.64 371.42,218.47 371.90,218.31 372.37,218.16 372.85,218.02 373.33,217.89 373.81,217.76 374.28,217.64 374.76,217.53 375.24,217.43 375.71,217.34 376.19,217.25 376.67,217.17 377.15,217.10 377.62,217.03 378.10,216.98 378.58,216.93 379.06,216.89 379.53,216.85 380.01,216.83 380.49,216.81 380.97,216.80 381.44,216.80 381.92,216.81 382.40,216.82 382.87,216.84 383.35,216.87 383.83,216.91 384.31,216.96 384.78,217.01 385.26,217.07 385.74,217.14 386.22,217.21 386.69,217.30 387.17,217.39 387.65,217.49 388.13,217.60 388.60,217.71 389.08,217.84 389.56,217.97 390.03,218.11 390.51,218.25 390.99,218.41 391.47,218.57 391.94,218.74 392.42,218.91 392.90,219.10 393.38,219.29 393.85,219.49 394.33,219.70 394.81,219.91 395.29,220.14 395.76,220.37 396.24,220.60 396.72,220.85 397.19,221.10 397.67,221.36 398.15,221.63 398.63,221.90 399.10,222.18 399.58,222.47 400.06,222.77 400.54,223.07 401.01,223.38 401.49,223.70 401.97,224.02 402.45,224.35 402.92,224.69 403.40,225.04 403.88,225.39 404.35,225.75 404.83,226.12 405.31,226.49 405.79,226.87 406.26,227.26 406.74,227.66 407.22,228.06 407.70,228.47 408.17,228.88 408.65,229.30 409.13,229.73 409.61,230.16 410.08,230.60 410.56,231.05 411.04,231.50 411.51,231.96 411.99,232.43 412.47,232.90 412.95,233.38 413.42,233.87 413.90,234.36 414.38,234.85 414.86,235.36 415.33,235.87 415.81,236.38 416.29,236.90 416.77,237.43 417.24,237.96 417.72,238.50 418.20,239.05 418.67,239.60 419.15,240.15 419.63,240.71 420.11,241.28 420.58,241.85 421.06,242.43 421.54,243.01 422.02,243.60 422.49,244.19 422.97,244.79 423.45,245.40 423.93,246.00 424.40,246.62 424.88,247.24 425.36,247.86 425.83,248.49 426.31,249.12 426.79,249.76 427.27,250.40 427.74,251.05 428.22,251.70 428.70,252.36 429.18,253.02 429.65,253.68 430.13,254.35 430.61,255.02 431.09,255.70 431.56,256.38 432.04,257.07 432.52,257.76 432.99,258.45 433.47,259.15 433.95,259.85 434.43,260.56 434.90,261.27 435.38,261.98 435.86,262.70 436.34,263.41 436.81,264.14 437.29,264.86 437.77,265.59 438.25,266.33 438.72,267.06 439.20,267.80 439.68,268.55 440.15,269.29 440.63,270.04 441.11,270.79 441.59,271.55 442.06,272.30 442.54,273.06 443.02,273.82 443.50,274.59 443.97,275.36 444.45,276.13 444.93,276.90 445.41,277.67 445.88,278.45 446.36,279.23 446.84,280.01 447.31,280.79 447.79,281.58 448.27,282.37 448.75,283.16 449.22,283.95 449.70,284.74 450.18,285.54 450.66,286.33 451.13,287.13 451.61,287.93 452.09,288.73 452.57,289.53 453.04,290.33 453.52,291.14 454.00,291.95 454.47,292.75 454.95,293.56 455.43,294.37 455.91,295.18 456.38,295.99 456.86,296.80 457.34,297.62 457.82,298.43 458.29,299.24 458.77,300.06 459.25,300.87 459.73,301.69 460.20,302.51 460.68,303.32 461.16,304.14 461.63,304.96 462.11,305.78 462.59,306.59 463.07,307.41 463.54,308.23 464.02,309.05 464.50,309.87 464.98,310.68 465.45,311.50 465.93,312.32 466.41,313.14 466.89,313.95 467.36,314.77 467.84,315.58 468.32,316.40 468.79,317.22 469.27,318.03 469.75,318.84 470.23,319.66 470.70,320.47 471.18,321.28 471.66,322.09 472.14,322.90 472.61,323.71 473.09,324.52 473.57,325.32 474.05,326.13 474.52,326.93 475.00,327.74 475.48,328.54 475.95,329.34 476.43,330.14 476.91,330.94 477.39,331.74 477.86,332.53 478.34,333.33 478.82,334.12 479.30,334.91 479.77,335.70 480.25,336.49 480.73,337.27 481.21,338.06 481.68,338.84 482.16,339.62 482.64,340.40 483.11,341.18 483.59,341.95 484.07,342.72 484.55,343.49 485.02,344.26 485.50,345.03 485.98,345.79 486.46,346.56 486.93,347.32 487.41,348.07 487.89,348.83 488.37,349.58 488.84,350.34 489.32,351.08 489.80,351.83 490.27,352.57 490.75,353.32 491.23,354.06 491.71,354.79 492.18,355.53 492.66,356.26 493.14,356.99 493.62,357.71 494.09,358.44 494.57,359.16 495.05,359.87 495.53,360.59 496.00,361.30 496.48,362.01 496.96,362.72 497.43,363.42 497.91,364.12 498.39,364.82 498.87,365.52 499.34,366.21 499.82,366.90 500.30,367.59 500.78,368.27 501.25,368.95 501.73,369.63 502.21,370.30 502.69,370.97 503.16,371.64 503.64,372.31 504.12,372.97 504.59,373.63 505.07,374.28 505.55,374.94 506.03,375.58 506.50,376.23 506.98,376.87 507.46,377.51 507.94,378.15 508.41,378.78 508.89,379.41 509.37,380.04 509.85,380.66 510.32,381.28 510.80,381.90 511.28,382.51 511.75,383.12 512.23,383.73 512.71,384.33 513.19,384.93 513.66,385.52 514.14,386.12 514.62,386.71 515.10,387.29 515.57,387.87 516.05,388.45 516.53,389.03 517.01,389.60 517.48,390.17 517.96,390.73 518.44,391.30 518.91,391.85 519.39,392.41 519.87,392.96 520.35,393.51 520.82,394.05 521.30,394.59 521.78,395.13 522.26,395.66 522.73,396.19 523.21,396.72 523.69,397.24 524.17,397.76 524.64,398.28 525.12,398.79 525.60,399.30 526.07,399.81 526.55,400.31 527.03,400.81 527.51,401.31 527.98,401.80 528.46,402.29 528.94,402.77 529.42,403.25 529.89,403.73 530.37,404.21 530.85,404.68 531.33,405.14 531.80,405.61 532.28,406.07 532.76,406.53 533.23,406.98 533.71,407.43 534.19,407.88 534.67,408.32 535.14,408.76 535.62,409.20 536.10,409.63 536.58,410.06 537.05,410.49 537.53,410.91 538.01,411.33 538.49,411.75 538.96,412.16 539.44,412.57 539.92,412.98 540.39,413.38 540.87,413.78 541.35,414.18 541.83,414.57 542.30,414.96 542.78,415.35 543.26,415.73 543.74,416.11 544.21,416.49 544.69,416.86 545.17,417.23 545.65,417.60 546.12,417.97 546.60,418.33 547.08,418.69 547.55,419.04 548.03,419.39 548.51,419.74 548.99,420.09 549.46,420.43 549.94,420.77 550.42,421.10 550.90,421.44 551.37,421.77 551.85,422.09 552.33,422.42 552.81,422.74 553.28,423.06 553.76,423.37 554.24,423.69 554.71,423.99 555.19,424.30 555.67,424.60 556.15,424.91 556.62,425.20 557.10,425.50 557.58,425.79 558.06,426.08 558.53,426.37 559.01,426.65 559.49,426.93 559.97,427.21 560.44,427.48 560.92,427.76 561.40,428.03 561.87,428.29 562.35,428.56 562.83,428.82 563.31,429.08 563.78,429.33 564.26,429.59 564.74,429.84 565.22,430.09 565.69,430.33 566.17,430.58 566.65,430.82 567.13,431.06 567.60,431.29 568.08,431.53 568.56,431.76 569.03,431.99 569.51,432.21 569.99,432.44 570.47,432.66 570.94,432.88 571.42,433.09 571.90,433.31 572.38,433.52 572.85,433.73 573.33,433.94 573.81,434.14 574.29,434.35 574.76,434.55 575.24,434.74 575.72,434.94 576.19,435.13 576.67,435.33 577.15,435.52 577.63,435.70 578.10,435.89 578.58,436.07 579.06,436.25 579.54,436.43 580.01,436.61 580.49,436.78 580.97,436.96 581.45,437.13 581.92,437.30 582.40,437.46 582.88,437.63 583.35,437.79 583.83,437.95 584.31,438.11 584.79,438.27 585.26,438.42 585.74,438.58 586.22,438.73 586.70,438.88 587.17,439.03 587.65,439.17 588.13,439.32 588.61,439.46 589.08,439.60 589.56,439.74 590.04,439.88 590.51,440.01 590.99,440.15 591.47,440.28 591.95,440.41 592.42,440.54 592.90,440.67 593.38,440.79 593.86,440.92 594.33,441.04 594.81,441.16 595.29,441.28 595.77,441.40 596.24,441.51 596.72,441.63 597.20,441.74 597.67,441.86 598.15,441.97 598.63,442.08 599.11,442.18 599.58,442.29 600.06,442.39 600.54,442.50 601.02,442.60 601.49,442.70 601.97,442.80 602.45,442.90 602.93,443.00 603.40,443.09 603.88,443.19 604.36,443.28 604.83,443.37 605.31,443.46 605.79,443.55 606.27,443.64 606.74,443.73 607.22,443.81 607.70,443.90 608.18,443.98 608.65,444.06 609.13,444.14 609.61,444.22 610.09,444.30 610.56,444.38 611.04,444.46 611.52,444.53 611.99,444.61 612.47,444.68 612.95,444.75 613.43,444.82 613.90,444.89 614.38,444.96 614.86,445.03 615.34,445.10 615.81,445.17 616.29,445.23 616.77,445.30 617.25,445.36 617.72,445.42 618.20,445.48 618.68,445.54 619.15,445.60 619.63,445.66 620.11,445.72 620.59,445.78 621.06,445.84 621.54,445.89 622.02,445.95 622.50,446.00 622.97,446.05 623.45,446.11 623.93,446.16 624.41,446.21 624.88,446.26 625.36,446.31 625.84,446.36 626.31,446.40 626.79,446.45 627.27,446.50 627.75,446.54 628.22,446.59 628.70,446.63 629.18,446.68 629.66,446.72 630.13,446.76 630.61,446.80 631.09,446.84 631.57,446.88 632.04,446.92 632.52,446.96 633.00,447.00 633.47,447.04 633.95,447.08 634.43,447.11 634.91,447.15 635.38,447.18 635.86,447.22 636.34,447.25 636.82,447.29 637.29,447.32 637.77,447.35 638.25,447.39 638.73,447.42 639.20,447.45 639.68,447.48 640.16,447.51 640.63,447.54 641.11,447.57 641.59,447.60 642.07,447.63 642.54,447.65 643.02,447.68 643.50,447.71 643.98,447.73 644.45,447.76 644.93,447.79 645.41,447.81 645.89,447.84 646.36,447.86 646.84,447.88 647.32,447.91 647.79,447.93 648.27,447.95 648.75,447.98 649.23,448.00 649.70,448.02 650.18,448.04 650.66,448.06 651.14,448.08 651.61,448.10 652.09,448.12 652.57,448.14 653.05,448.16 653.52,448.18 654.00,448.20" fill="none" stroke="green" stroke-width="2.646" stroke-linejoin="round" stroke-linecap="square"/>
<polyline points="81.20,449.15 81.68,449.15 82.15,449.15 82.63,449.15 83.11,449.15 83.59,449.15 84.06,449.15 84.54,449.15 85.02,449.15 85.50,449.15 85.97,449.15 86.45,449.15 86.93,449.15 87.41,449.15 87.88,449.15 88.36,449.15 88.84,449.15 89.31,449.15 89.79,449.15 90.27,449.15 90.75,449.15 91.22,449.15 91.70,449.15 92.18,449.15 92.66,449.15 93.13,449.15 93.61,449.15 94.09,449.15 94.57,449.15 95.04,449.15 95.52,449.15 96.00,449.15 96.47,449.15 96.95,449.15 97.43,449.15 97.91,449.15 98.38,449.15 98.86,449.15 99.34,449.15 99.82,449.15 100.29,449.15 100.77,449.15 101.25,449.15 101.73,449.15 102.20,449.15 102.68,449.15 103.16,449.15 103.63,449.15 104.11,449.15 104.59,449.15 105.07,449.15 105.54,449.15 106.02,449.15 106.50,449.15 106.98,449.15 107.45,449.15 107.93,449.15 108.41,449.15 108.89,449.15 109.36,449.15 109.84,449.15 110.32,449.15 110.79,449.15 111.27,449.15 111.75,449.15 112.23,449.15 112.70,449.15 113.18,449.15 113.66,449.15 114.14,449.15 114.61,449.15 115.09,449.15 115.57,449.15 116.05,449.15 116.52,449.15 117.00,449.15 117.48,449.15 117.95,449.15 118.43,449.15 118.91,449.15 119.39,449.15 119.86,449.15 120.34,449.15 120.82,449.15 121.30,449.15 121.77,449.15 122.25,449.15 122.73,449.15 123.21,449.15 123.68,449.15 124.16,449.15 124.64,449.15 125.11,449.15 125.59,449.15 126.07,449.15 126.55,449.15 127.02,449.15 127.50,449.15 127.98,449.15 128.46,449.15 128.93,449.15 129.41,449.15 129.89,449.15 130.37,449.15 130.84,449.15 131.32,449.15 131.80,449.15 132.27,449.15 132.75,449.15 133.23,449.15 133.71,449.15 134.18,449.15 134.66,449.15 135.14,449.15 135.62,449.15 136.09,449.15 136.57,449.15 137.05,449.15 137.53,449.15 138.00,449.15 138.48,449.15 138.96,449.15 139.43,449.15 139.91,449.15 140.39,449.15 140.87,449.15 141.34,449.15 141.82,449.15 142.30,449.15 142.78,449.15 143.25,449.15 143.73,449.15 144.21,449.15 144.69,449.15 145.16,449.15 145.64,449.15 146.12,449.15 146.59,449.15 147.07,449.15 147.55,449.15 148.03,449.15 148.50,449.15 148.98,449.15 149.46,449.15 149.94,449.15 150.41,449.15 150.89,449.15 151.37,449.15 151.85,449.15 152.32,449.15 152.80,449.15 153.28,449.15 153.75,449.15 154.23,449.15 154.71,449.15 155.19,449.15 155.66,449.15 156.14,449.15 156.62,449.14 157.10,449.14 157.57,449.14 158.05,449.14 158.53,449.14 159.01,449.14 159.48,449.14 159.96,449.14 160.44,449.14 160.91,449.14 161.39,449.14 161.87,449.14 162.35,449.14 162.82,449.14 163.30,449.14 163.78,449.14 164.26,449.14 164.73,449.14 165.21,449.14 165.69,449.14 166.17,449.14 166.64,449.14 167.12,449.14 167.60,449.13 168.07,449.13 168.55,449.13 169.03,449.13 169.51,449.13 169.98,449.13 170.46,449.13 170.94,449.13 171.42,449.13 171.89,449.13 172.37,449.13 172.85,449.12 173.33,449.12 173.80,449.12 174.28,449.12 174.76,449.12 175.23,449.12 175.71,449.12 176.19,449.11 176.67,449.11 177.14,449.11 177.62,449.11 178.10,449.11 178.58,449.10 179.05,449.10 179.53,449.10 180.01,449.10 180.49,449.10 180.96,449.09 181.44,449.09 181.92,449.09 182.39,449.09 182.87,449.08 183.35,449.08 183.83,449.08 184.30,449.07 184.78,449.07 185.26,449.07 185.74,449.06 186.21,449.06 186.69,449.05 187.17,449.05 187.65,449.05 188.12,449.04 188.60,449.04 189.08,449.03 189.55,449.03 190.03,449.02 190.51,449.01 190.99,449.01 191.46,449.00 191.94,449.00 192.42,448.99 192.90,448.98 193.37,448.98 193.85,448.97 194.33,448.96 194.81,448.95 195.28,448.94 195.76,448.93 196.24,448.93 196.71,448.92 197.19,448.91 197.67,448.90 198.15,448.89 198.62,448.88 199.10,448.86 199.58,448.85 200.06,448.84 200.53,448.83 201.01,448.81 201.49,448.80 201.97,448.79 202.44,448.77 202.92,448.76 203.40,448.74 203.87,448.72 204.35,448.71 204.83,448.69 205.31,448.67 205.78,448.65 206.26,448.63 206.74,448.61 207.22,448.59 207.69,448.57 208.17,448.54 208.65,448.52 209.13,448.50 209.60,448.47 210.08,448.45 210.56,448.42 211.03,448.39 211.51,448.36 211.99,448.33 212.47,448.30 212.94,448.27 213.42,448.23 213.90,448.20 214.38,448.16 214.85,448.13 215.33,448.09 215.81,448.05 216.29,448.01 216.76,447.97 217.24,447.92 217.72,447.88 218.19,447.83 218.67,447.78 219.15,447.73 219.63,447.68 220.10,447.63 220.58,447.57 221.06,447.51 221.54,447.46 222.01,447.40 222.49,447.33 222.97,447.27 223.45,447.20 223.92,447.13 224.40,447.06 224.88,446.99 225.35,446.91 225.83,446.83 226.31,446.75 226.79,446.67 227.26,446.59 227.74,446.50 228.22,446.41 228.70,446.31 229.17,446.22 229.65,446.12 230.13,446.01 230.61,445.91 231.08,445.80 231.56,445.69 232.04,445.57 232.51,445.45 232.99,445.33 233.47,445.21 233.95,445.08 234.42,444.94 234.90,444.81 235.38,444.66 235.86,444.52 236.33,444.37 236.81,444.22 237.29,444.06 237.77,443.89 238.24,443.73 238.72,443.56 239.20,443.38 239.67,443.20 240.15,443.01 240.63,442.82 241.11,442.62 241.58,442.42 242.06,442.21 242.54,442.00 243.02,441.78 243.49,441.55 243.97,441.32 244.45,441.08 244.93,440.84 245.40,440.59 245.88,440.33 246.36,440.07 246.83,439.80 247.31,439.52 247.79,439.24 248.27,438.95 248.74,438.65 249.22,438.34 249.70,438.03 250.18,437.71 250.65,437.38 251.13,437.04 251.61,436.69 252.09,436.34 252.56,435.98 253.04,435.60 253.52,435.22 253.99,434.83 254.47,434.43 254.95,434.02 255.43,433.60 255.90,433.18 256.38,432.74 256.86,432.29 257.34,431.83 257.81,431.36 258.29,430.88 258.77,430.39 259.25,429.89 259.72,429.38 260.20,428.85 260.68,428.32 261.15,427.77 261.63,427.21 262.11,426.64 262.59,426.05 263.06,425.45 263.54,424.85 264.02,424.22 264.50,423.59 264.97,422.94 265.45,422.28 265.93,421.60 266.41,420.91 266.88,420.21 267.36,419.49 267.84,418.76 268.31,418.01 268.79,417.25 269.27,416.48 269.75,415.68 270.22,414.88 270.70,414.05 271.18,413.22 271.66,412.36 272.13,411.49 272.61,410.61 273.09,409.70 273.57,408.78 274.04,407.85 274.52,406.90 275.00,405.93 275.47,404.94 275.95,403.93 276.43,402.91 276.91,401.87 277.38,400.81 277.86,399.73 278.34,398.64 278.82,397.53 279.29,396.39 279.77,395.24 280.25,394.07 280.73,392.88 281.20,391.68 281.68,390.45 282.16,389.20 282.63,387.93 283.11,386.65 283.59,385.34 284.07,384.02 284.54,382.67 285.02,381.30 285.50,379.92 285.98,378.51 286.45,377.08 286.93,375.63 287.41,374.16 287.89,372.67 288.36,371.16 288.84,369.63 289.32,368.08 289.79,366.50 290.27,364.91 290.75,363.29 291.23,361.66 291.70,360.00 292.18,358.32 292.66,356.62 293.14,354.89 293.61,353.15 294.09,351.38 294.57,349.60 295.05,347.79 295.52,345.96 296.00,344.11 296.48,342.24 296.95,340.35 297.43,338.43 297.91,336.50 298.39,334.54 298.86,332.57 299.34,330.57 299.82,328.55 300.30,326.52 300.77,324.46 301.25,322.38 301.73,320.28 302.21,318.16 302.68,316.02 303.16,313.86 303.64,311.68 304.11,309.48 304.59,307.26 305.07,305.03 305.55,302.77 306.02,300.50 306.50,298.21 306.98,295.89 307.46,293.57 307.93,291.22 308.41,288.86 308.89,286.47 309.37,284.08 309.84,281.66 310.32,279.23 310.80,276.79 311.27,274.32 311.75,271.85 312.23,269.35 312.71,266.85 313.18,264.32 313.66,261.79 314.14,259.24 314.62,256.68 315.09,254.10 315.57,251.52 316.05,248.92 316.53,246.31 317.00,243.69 317.48,241.06 317.96,238.41 318.43,235.76 318.91,233.10 319.39,230.43 319.87,227.76 320.34,225.07 320.82,222.38 321.30,219.68 321.78,216.98 322.25,214.26 322.73,211.55 323.21,208.83 323.69,206.11 324.16,203.38 324.64,200.65 325.12,197.92 325.59,195.18 326.07,192.45 326.55,189.71 327.03,186.98 327.50,184.24 327.98,181.51 328.46,178.78 328.94,176.05 329.41,173.33 329.89,170.61 330.37,167.90 330.85,165.19 331.32,162.48 331.80,159.78 332.28,157.09 332.75,154.41 333.23,151.74 333.71,149.08 334.19,146.42 334.66,143.78 335.14,141.15 335.62,138.53 336.10,135.92 336.57,133.33 337.05,130.75 337.53,128.19 338.01,125.64 338.48,123.11 338.96,120.59 339.44,118.09 339.91,115.61 340.39,113.15 340.87,110.71 341.35,108.29 341.82,105.90 342.30,103.52 342.78,101.17 343.26,98.84 343.73,96.53 344.21,94.25 344.69,91.99 345.17,89.76 345.64,87.55 346.12,85.38 346.60,83.23 347.07,81.11 347.55,79.01 348.03,76.95 348.51,74.92 348.98,72.92 349.46,70.95 349.94,69.02 350.42,67.11 350.89,65.24 351.37,63.41 351.85,61.61 352.33,59.84 352.80,58.11 353.28,56.42 353.76,54.76 354.23,53.14 354.71,51.56 355.19,50.02 355.67,48.51 356.14,47.05 356.62,45.62 357.10,44.24 357.58,42.89 358.05,41.59 358.53,40.33 359.01,39.11 359.49,37.93 359.96,36.80 360.44,35.71 360.92,34.66 361.39,33.66 361.87,32.70 362.35,31.79 362.83,30.92 363.30,30.09 363.78,29.32 364.26,28.58 364.74,27.90 365.21,27.26 365.69,26.66 366.17,26.11 366.65,25.61 367.12,25.16 367.60,24.75 368.08,24.39 368.55,24.08 369.03,23.81 369.51,23.59 369.99,23.42 370.46,23.30 370.94,23.23 371.42,23.20 371.90,23.22 372.37,23.29 372.85,23.41 373.33,23.57 373.81,23.78 374.28,24.04 374.76,24.35 375.24,24.70 375.71,25.10 376.19,25.55 376.67,26.04 377.15,26.59 377.62,27.17 378.10,27.81 378.58,28.49 379.06,29.22 379.53,29.99 380.01,30.81 380.49,31.67 380.97,32.58 381.44,33.53 381.92,34.53 382.40,35.57 382.87,36.66 383.35,37.78 383.83,38.95 384.31,40.17 384.78,41.42 385.26,42.72 385.74,44.06 386.22,45.44 386.69,46.86 387.17,48.32 387.65,49.82 388.13,51.35 388.60,52.93 389.08,54.55 389.56,56.20 390.03,57.89 390.51,59.61 390.99,61.37 391.47,63.17 391.94,65.00 392.42,66.87 392.90,68.77 393.38,70.70 393.85,72.66 394.33,74.66 394.81,76.68 395.29,78.74 395.76,80.83 396.24,82.95 396.72,85.09 397.19,87.27 397.67,89.47 398.15,91.69 398.63,93.95 399.10,96.23 399.58,98.53 400.06,100.86 400.54,103.21 401.01,105.58 401.49,107.98 401.97,110.40 402.45,112.83 402.92,115.29 403.40,117.77 403.88,120.26 404.35,122.77 404.83,125.30 405.31,127.85 405.79,130.41 406.26,132.99 406.74,135.58 407.22,138.18 407.70,140.80 408.17,143.43 408.65,146.07 409.13,148.73 409.61,151.39 410.08,154.06 410.56,156.74 411.04,159.43 411.51,162.13 411.99,164.83 412.47,167.54 412.95,170.25 413.42,172.97 413.90,175.70 414.38,178.42 414.86,181.15 415.33,183.89 415.81,186.62 416.29,189.35 416.77,192.09 417.24,194.82 417.72,197.56 418.20,200.29 418.67,203.02 419.15,205.75 419.63,208.47 420.11,211.19 420.58,213.91 421.06,216.62 421.54,219.33 422.02,222.02 422.49,224.72 422.97,227.40 423.45,230.08 423.93,232.75 424.40,235.41 424.88,238.07 425.36,240.71 425.83,243.34 426.31,245.97 426.79,248.58 427.27,251.18 427.74,253.77 428.22,256.34 428.70,258.91 429.18,261.46 429.65,263.99 430.13,266.52 430.61,269.02 431.09,271.52 431.56,274.00 432.04,276.46 432.52,278.91 432.99,281.34 433.47,283.76 433.95,286.16 434.43,288.54 434.90,290.91 435.38,293.26 435.86,295.59 436.34,297.90 436.81,300.20 437.29,302.47 437.77,304.73 438.25,306.97 438.72,309.19 439.20,311.39 439.68,313.57 440.15,315.74 440.63,317.88 441.11,320.00 441.59,322.10 442.06,324.18 442.54,326.25 443.02,328.29 443.50,330.31 443.97,332.31 444.45,334.29 444.93,336.24 445.41,338.18 445.88,340.10 446.36,341.99 446.84,343.87 447.31,345.72 447.79,347.55 448.27,349.36 448.75,351.15 449.22,352.92 449.70,354.67 450.18,356.39 450.66,358.09 451.13,359.78 451.61,361.44 452.09,363.08 452.57,364.70 453.04,366.30 453.52,367.87 454.00,369.43 454.47,370.96 454.95,372.48 455.43,373.97 455.91,375.44 456.38,376.89 456.86,378.32 457.34,379.73 457.82,381.12 458.29,382.49 458.77,383.84 459.25,385.17 459.73,386.48 460.20,387.77 460.68,389.04 461.16,390.29 461.63,391.52 462.11,392.73 462.59,393.92 463.07,395.09 463.54,396.24 464.02,397.38 464.50,398.49 464.98,399.59 465.45,400.67 465.93,401.73 466.41,402.77 466.89,403.80 467.36,404.81 467.84,405.80 468.32,406.77 468.79,407.72 469.27,408.66 469.75,409.58 470.23,410.49 470.70,411.38 471.18,412.25 471.66,413.11 472.14,413.95 472.61,414.77 473.09,415.58 473.57,416.37 474.05,417.15 474.52,417.91 475.00,418.66 475.48,419.40 475.95,420.12 476.43,420.82 476.91,421.51 477.39,422.19 477.86,422.85 478.34,423.50 478.82,424.14 479.30,424.76 479.77,425.38 480.25,425.97 480.73,426.56 481.21,427.13 481.68,427.69 482.16,428.24 482.64,428.78 483.11,429.31 483.59,429.82 484.07,430.33 484.55,430.82 485.02,431.30 485.50,431.77 485.98,432.23 486.46,432.68 486.93,433.12 487.41,433.55 487.89,433.97 488.37,434.38 488.84,434.78 489.32,435.17 489.80,435.55 490.27,435.93 490.75,436.29 491.23,436.65 491.71,436.99 492.18,437.33 492.66,437.66 493.14,437.99 493.62,438.30 494.09,438.61 494.57,438.91 495.05,439.20 495.53,439.49 496.00,439.76 496.48,440.04 496.96,440.30 497.43,440.56 497.91,440.81 498.39,441.05 498.87,441.29 499.34,441.52 499.82,441.75 500.30,441.97 500.78,442.18 501.25,442.39 501.73,442.60 502.21,442.79 502.69,442.99 503.16,443.17 503.64,443.36 504.12,443.53 504.59,443.71 505.07,443.87 505.55,444.04 506.03,444.20 506.50,444.35 506.98,444.50 507.46,444.65 507.94,444.79 508.41,444.93 508.89,445.06 509.37,445.19 509.85,445.32 510.32,445.44 510.80,445.56 511.28,445.67 511.75,445.79 512.23,445.90 512.71,446.00 513.19,446.10 513.66,446.20 514.14,446.30 514.62,446.39 515.10,446.49 515.57,446.57 516.05,446.66 516.53,446.74 517.01,446.82 517.48,446.90 517.96,446.98 518.44,447.05 518.91,447.12 519.39,447.19 519.87,447.26 520.35,447.32 520.82,447.39 521.30,447.45 521.78,447.51 522.26,447.56 522.73,447.62 523.21,447.67 523.69,447.72 524.17,447.77 524.64,447.82 525.12,447.87 525.60,447.92 526.07,447.96 526.55,448.00 527.03,448.04 527.51,448.08 527.98,448.12 528.46,448.16 528.94,448.19 529.42,448.23 529.89,448.26 530.37,448.30 530.85,448.33 531.33,448.36 531.80,448.39 532.28,448.41 532.76,448.44 533.23,448.47 533.71,448.49 534.19,448.52 534.67,448.54 535.14,448.56 535.62,448.59 536.10,448.61 536.58,448.63 537.05,448.65 537.53,448.67 538.01,448.69 538.49,448.70 538.96,448.72 539.44,448.74 539.92,448.75 540.39,448.77 540.87,448.78 541.35,448.80 541.83,448.81 542.30,448.83 542.78,448.84 543.26,448.85 543.74,448.86 544.21,448.87 544.69,448.88 545.17,448.90 545.65,448.91 546.12,448.92 546.60,448.92 547.08,448.93 547.55,448.94 548.03,448.95 548.51,448.96 548.99,448.97 549.46,448.97 549.94,448.98 550.42,448.99 550.90,449.00 551.37,449.00 551.85,449.01 552.33,449.01 552.81,449.02 553.28,449.02 553.76,449.03 554.24,449.03 554.71,449.04 555.19,449.04 555.67,449.05 556.15,449.05 556.62,449.06 557.10,449.06 557.58,449.07 558.06,449.07 558.53,449.07 559.01,449.08 559.49,449.08 559.97,449.08 560.44,449.08 560.92,449.09 561.40,449.09 561.87,449.09 562.35,449.10 562.83,449.10 563.31,449.10 563.78,449.10 564.26,449.10 564.74,449.11 565.22,449.11 565.69,449.11 566.17,449.11 566.65,449.11 567.13,449.12 567.60,449.12 568.08,449.12 568.56,449.12 569.03,449.12 569.51,449.12 569.99,449.12 570.47,449.12 570.94,449.13 571.42,449.13 571.90,449.13 572.38,449.13 572.85,449.13 573.33,449.13 573.81,449.13 574.29,449.13 574.76,449.13 575.24,449.13 575.72,449.14 576.19,449.14 576.67,449.14 577.15,449.14 577.63,449.14 578.10,449.14 578.58,449.14 579.06,449.14 579.54,449.14 580.01,449.14 580.49,449.14 580.97,449.14 581.45,449.14 581.92,449.14 582.40,449.14 582.88,449.14 583.35,449.14 583.83,449.14 584.31,449.14 584.79,449.14 585.26,449.14 585.74,449.14 586.22,449.14 586.70,449.15 587.17,449.15 587.65,449.15 588.13,449.15 588.61,449.15 589.08,449.15 589.56,449.15 590.04,449.15 590.51,449.15 590.99,449.15 591.47,449.15 591.95,449.15 592.42,449.15 592.90,449.15 593.38,449.15 593.86,449.15 594.33,449.15 594.81,449.15 595.29,449.15 595.77,449.15 596.24,449.15 596.72,449.15 597.20,449.15 597.67,449.15 598.15,449.15 598.63,449.15 599.11,449.15 599.58,449.15 600.06,449.15 600.54,449.15 601.02,449.15 601.49,449.15 601.97,449.15 602.45,449.15 602.93,449.15 603.40,449.15 603.88,449.15 604.36,449.15 604.83,449.15 605.31,449.15 605.79,449.15 606.27,449.15 606.74,449.15 607.22,449.15 607.70,449.15 608.18,449.15 608.65,449.15 609.13,449.15 609.61,449.15 610.09,449.15 610.56,449.15 611.04,449.15 611.52,449.15 611.99,449.15 612.47,449.15 612.95,449.15 613.43,449.15 613.90,449.15 614.38,449.15 614.86,449.15 615.34,449.15 615.81,449.15 616.29,449.15 616.77,449.15 617.25,449.15 617.72,449.15 618.20,449.15 618.68,449.15 619.15,449.15 619.63,449.15 620.11,449.15 620.59,449.15 621.06,449.15 621.54,449.15 622.02,449.15 622.50,449.15 622.97,449.15 623.45,449.15 623.93,449.15 624.41,449.15 624.88,449.15 625.36,449.15 625.84,449.15 626.31,449.15 626.79,449.15 627.27,449.15 627.75,449.15 628.22,449.15 628.70,449.15 629.18,449.15 629.66,449.15 630.13,449.15 630.61,449.15 631.09,449.15 631.57,449.15 632.04,449.15 632.52,449.15 633.00,449.15 633.47,449.15 633.95,449.15 634.43,449.15 634.91,449.15 635.38,449.15 635.86,449.15 636.34,449.15 636.82,449.15 637.29,449.15 637.77,449.15 638.25,449.15 638.73,449.15 639.20,449.15 639.68,449.15 640.16,449.15 640.63,449.15 641.11,449.15 641.59,449.15 642.07,449.15 642.54,449.15 643.02,449.15 643.50,449.15 643.98,449.15 644.45,449.15 644.93,449.15 645.41,449.15 645.89,449.15 646.36,449.15 646.84,449.15 647.32,449.15 647.79,449.15 648.27,449.15 648.75,449.15 649.23,449.15 649.70,449.15 650.18,449.15 650.66,449.15 651.14,449.15 651.61,449.15 652.09,449.15 652.57,449.15 653.05,449.15 653.52,449.15 654.00,449.15" fill="none" stroke="purple" stroke-width="2.646" stroke-linejoin="round" stroke-linecap="square"/>
<line x1="367.51" y1="448.64" x2="367.51" y2="250.80" stroke="red" stroke-width="2.646" stroke-dasharray="9.790 4.233" stroke-linecap="butt"/>
<line x1="330.60" y1="448.64" x2="330.60" y2="176.10" stroke="blue" stroke-width="2.646" stroke-dasharray="9.790 4.233" stroke-linecap="butt"/>
<line x1="381.53" y1="448.64" x2="381.53" y2="216.80" stroke="green" stroke-width="2.646" stroke-dasharray="9.790 4.233" stroke-linecap="butt"/>
<line x1="371.42" y1="448.64" x2="371.42" y2="23.20" stroke="purple" stroke-width="2.646" stroke-dasharray="9.790 4.233" stroke-linecap="butt"/>
</g>
<path d="M53.40 470.80V2.90M683.15 470.80V2.90M53.40 470.80H683.15M53.40 2.90H683.15" fill="none" stroke="#000" stroke-width="1.60" stroke-linecap="square"/>
<rect x="466.20" y="11.70" width="208.00" height="110.90" rx="3.53" fill="#fff" fill-opacity="0.8" stroke="#ccc" stroke-opacity="0.8" stroke-width="1.76"/>
<line x1="471.60" y1="25.00" x2="507.30" y2="25.00" stroke="red" stroke-width="2.646" stroke-linecap="square"/>
<text x="521.00" y="31.25" style="font-family:'DejaVu Sans','Liberation Sans',sans-serif;font-size:17.64px;letter-spacing:0.07px" fill="#000">Single trip ticket</text>
<line x1="471.60" y1="51.60" x2="507.30" y2="51.60" stroke="blue" stroke-width="2.646" stroke-linecap="square"/>
<text x="521.00" y="57.85" style="font-family:'DejaVu Sans','Liberation Sans',sans-serif;font-size:17.64px;letter-spacing:0.07px" fill="#000">Day ticket</text>
<line x1="471.60" y1="78.30" x2="507.30" y2="78.30" stroke="green" stroke-width="2.646" stroke-linecap="square"/>
<text x="521.00" y="84.55" style="font-family:'DejaVu Sans','Liberation Sans',sans-serif;font-size:17.64px;letter-spacing:0.07px" fill="#000">Month ticket</text>
<line x1="471.60" y1="104.90" x2="507.30" y2="104.90" stroke="purple" stroke-width="2.646" stroke-linecap="square"/>
<text x="521.00" y="111.15" style="font-family:'DejaVu Sans','Liberation Sans',sans-serif;font-size:17.64px;letter-spacing:0.07px" fill="#000">Annual ticket</text>
</g></svg>
</body></html>
